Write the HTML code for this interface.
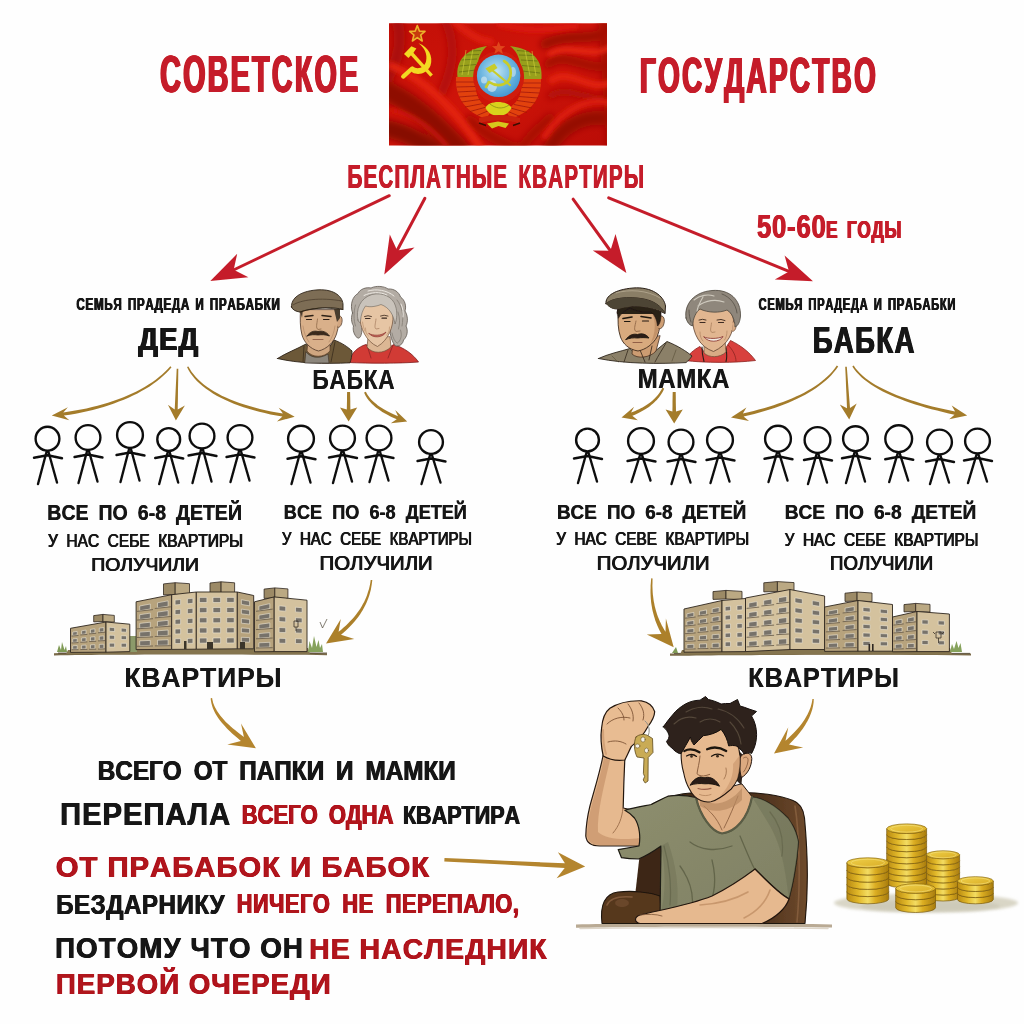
<!DOCTYPE html>
<html lang="ru"><head><meta charset="utf-8"><title>Советское государство</title>
<style>
html,body{margin:0;padding:0;background:#fefefe;}
body{width:1024px;height:1024px;overflow:hidden;font-family:"Liberation Sans",sans-serif;}
svg{display:block;font-family:"Liberation Sans",sans-serif;font-kerning:none;}
text{font-kerning:none;}
</style></head><body>
<svg width="1024" height="1024" viewBox="0 0 1024 1024">
<rect width="1024" height="1024" fill="#fefefe"/>
<defs><filter id="tsoft" x="-2%" y="-10%" width="104%" height="120%"><feGaussianBlur stdDeviation="0.3"/></filter></defs>
<g id="txt" filter="url(#tsoft)">
<text transform="translate(159.32 92.00) scale(0.5655 1)" font-size="50.87" font-weight="bold" fill="#c51f2a" style="word-spacing:0.000px;letter-spacing:3.890px" >СОВЕТСКОЕ</text>
<text transform="translate(159.72 92.00) scale(0.5655 1)" font-size="50.87" font-weight="bold" fill="#c51f2a" style="word-spacing:0.000px;letter-spacing:3.890px" >СОВЕТСКОЕ</text>
<text transform="translate(160.12 92.00) scale(0.5655 1)" font-size="50.87" font-weight="bold" fill="#c51f2a" style="word-spacing:0.000px;letter-spacing:3.890px" >СОВЕТСКОЕ</text>
<text transform="translate(160.52 92.00) scale(0.5655 1)" font-size="50.87" font-weight="bold" fill="#c51f2a" style="word-spacing:0.000px;letter-spacing:3.890px" >СОВЕТСКОЕ</text>
<text transform="translate(160.92 92.00) scale(0.5655 1)" font-size="50.87" font-weight="bold" fill="#c51f2a" style="word-spacing:0.000px;letter-spacing:3.890px" >СОВЕТСКОЕ</text>
<text transform="translate(639.12 93.00) scale(0.5517 1)" font-size="50.87" font-weight="bold" fill="#c51f2a" style="word-spacing:0.000px;letter-spacing:3.988px" >ГОСУДАРСТВО</text>
<text transform="translate(639.52 93.00) scale(0.5517 1)" font-size="50.87" font-weight="bold" fill="#c51f2a" style="word-spacing:0.000px;letter-spacing:3.988px" >ГОСУДАРСТВО</text>
<text transform="translate(639.92 93.00) scale(0.5517 1)" font-size="50.87" font-weight="bold" fill="#c51f2a" style="word-spacing:0.000px;letter-spacing:3.988px" >ГОСУДАРСТВО</text>
<text transform="translate(640.32 93.00) scale(0.5517 1)" font-size="50.87" font-weight="bold" fill="#c51f2a" style="word-spacing:0.000px;letter-spacing:3.988px" >ГОСУДАРСТВО</text>
<text transform="translate(640.72 93.00) scale(0.5517 1)" font-size="50.87" font-weight="bold" fill="#c51f2a" style="word-spacing:0.000px;letter-spacing:3.988px" >ГОСУДАРСТВО</text>
<text transform="translate(347.12 188.00) scale(0.6295 1)" font-size="32.70" font-weight="bold" fill="#c51f2a" style="word-spacing:5.081px;letter-spacing:1.906px" >БЕСПЛАТНЫЕ КВАРТИРЫ</text>
<text transform="translate(347.52 188.00) scale(0.6295 1)" font-size="32.70" font-weight="bold" fill="#c51f2a" style="word-spacing:5.081px;letter-spacing:1.906px" >БЕСПЛАТНЫЕ КВАРТИРЫ</text>
<text transform="translate(347.92 188.00) scale(0.6295 1)" font-size="32.70" font-weight="bold" fill="#c51f2a" style="word-spacing:5.081px;letter-spacing:1.906px" >БЕСПЛАТНЫЕ КВАРТИРЫ</text>
<text transform="translate(756.41 237.80) scale(0.7931 1)" font-size="32.41" font-weight="bold" fill="#c51f2a" style="word-spacing:0.000px;letter-spacing:1.009px" >50-60</text>
<text transform="translate(756.91 237.80) scale(0.7931 1)" font-size="32.41" font-weight="bold" fill="#c51f2a" style="word-spacing:0.000px;letter-spacing:1.009px" >50-60</text>
<text transform="translate(757.41 237.80) scale(0.7931 1)" font-size="32.41" font-weight="bold" fill="#c51f2a" style="word-spacing:0.000px;letter-spacing:1.009px" >50-60</text>
<text transform="translate(825.45 237.80) scale(0.7139 1)" font-size="23.98" font-weight="bold" fill="#c51f2a" style="word-spacing:4.382px;letter-spacing:1.121px" >Е ГОДЫ</text>
<text transform="translate(825.85 237.80) scale(0.7139 1)" font-size="23.98" font-weight="bold" fill="#c51f2a" style="word-spacing:4.382px;letter-spacing:1.121px" >Е ГОДЫ</text>
<text transform="translate(826.25 237.80) scale(0.7139 1)" font-size="23.98" font-weight="bold" fill="#c51f2a" style="word-spacing:4.382px;letter-spacing:1.121px" >Е ГОДЫ</text>
<text transform="translate(826.65 237.80) scale(0.7139 1)" font-size="23.98" font-weight="bold" fill="#c51f2a" style="word-spacing:4.382px;letter-spacing:1.121px" >Е ГОДЫ</text>
<text transform="translate(76.02 309.80) scale(0.6789 1)" font-size="17.15" font-weight="bold" fill="#141414" style="word-spacing:2.160px;letter-spacing:1.031px" >СЕМЬЯ ПРАДЕДА И ПРАБАБКИ</text>
<text transform="translate(76.42 309.80) scale(0.6789 1)" font-size="17.15" font-weight="bold" fill="#141414" style="word-spacing:2.160px;letter-spacing:1.031px" >СЕМЬЯ ПРАДЕДА И ПРАБАБКИ</text>
<text transform="translate(76.82 309.80) scale(0.6789 1)" font-size="17.15" font-weight="bold" fill="#141414" style="word-spacing:2.160px;letter-spacing:1.031px" >СЕМЬЯ ПРАДЕДА И ПРАБАБКИ</text>
<text transform="translate(758.14 309.80) scale(0.6692 1)" font-size="16.72" font-weight="bold" fill="#141414" style="word-spacing:2.463px;letter-spacing:1.046px" >СЕМЬЯ ПРАДЕДА И ПРАБАБКИ</text>
<text transform="translate(758.54 309.80) scale(0.6692 1)" font-size="16.72" font-weight="bold" fill="#141414" style="word-spacing:2.463px;letter-spacing:1.046px" >СЕМЬЯ ПРАДЕДА И ПРАБАБКИ</text>
<text transform="translate(758.94 309.80) scale(0.6692 1)" font-size="16.72" font-weight="bold" fill="#141414" style="word-spacing:2.463px;letter-spacing:1.046px" >СЕМЬЯ ПРАДЕДА И ПРАБАБКИ</text>
<text transform="translate(137.76 350.00) scale(0.8451 1)" font-size="31.98" font-weight="bold" fill="#141414" style="word-spacing:0.000px;letter-spacing:1.775px" >ДЕД</text>
<text transform="translate(138.16 350.00) scale(0.8451 1)" font-size="31.98" font-weight="bold" fill="#141414" style="word-spacing:0.000px;letter-spacing:1.775px" >ДЕД</text>
<text transform="translate(138.56 350.00) scale(0.8451 1)" font-size="31.98" font-weight="bold" fill="#141414" style="word-spacing:0.000px;letter-spacing:1.775px" >ДЕД</text>
<text transform="translate(138.96 350.00) scale(0.8451 1)" font-size="31.98" font-weight="bold" fill="#141414" style="word-spacing:0.000px;letter-spacing:1.775px" >ДЕД</text>
<text transform="translate(139.36 350.00) scale(0.8451 1)" font-size="31.98" font-weight="bold" fill="#141414" style="word-spacing:0.000px;letter-spacing:1.775px" >ДЕД</text>
<text transform="translate(812.17 353.30) scale(0.7440 1)" font-size="36.77" font-weight="bold" fill="#141414" style="word-spacing:0.000px;letter-spacing:2.016px" >БАБКА</text>
<text transform="translate(812.60 353.30) scale(0.7440 1)" font-size="36.77" font-weight="bold" fill="#141414" style="word-spacing:0.000px;letter-spacing:2.016px" >БАБКА</text>
<text transform="translate(813.04 353.30) scale(0.7440 1)" font-size="36.77" font-weight="bold" fill="#141414" style="word-spacing:0.000px;letter-spacing:2.016px" >БАБКА</text>
<text transform="translate(813.47 353.30) scale(0.7440 1)" font-size="36.77" font-weight="bold" fill="#141414" style="word-spacing:0.000px;letter-spacing:2.016px" >БАБКА</text>
<text transform="translate(312.18 389.40) scale(0.8333 1)" font-size="27.33" font-weight="bold" fill="#141414" style="word-spacing:0.000px;letter-spacing:0.840px" >БАБКА</text>
<text transform="translate(312.48 389.40) scale(0.8333 1)" font-size="27.33" font-weight="bold" fill="#141414" style="word-spacing:0.000px;letter-spacing:0.840px" >БАБКА</text>
<text transform="translate(637.39 388.00) scale(0.8978 1)" font-size="26.74" font-weight="bold" fill="#141414" style="word-spacing:0.000px;letter-spacing:0.668px" >МАМКА</text>
<text transform="translate(637.89 388.00) scale(0.8978 1)" font-size="26.74" font-weight="bold" fill="#141414" style="word-spacing:0.000px;letter-spacing:0.668px" >МАМКА</text>
<text transform="translate(47.09 520.20) scale(0.9201 1)" font-size="21.22" font-weight="bold" fill="#141414" style="word-spacing:5.017px;letter-spacing:0.000px" >ВСЕ ПО 6-8 ДЕТЕЙ</text>
<text transform="translate(47.59 520.20) scale(0.9201 1)" font-size="21.22" font-weight="bold" fill="#141414" style="word-spacing:5.017px;letter-spacing:0.000px" >ВСЕ ПО 6-8 ДЕТЕЙ</text>
<text transform="translate(47.58 547.10) scale(0.8828 1)" font-size="17.59" font-weight="normal" fill="#141414" style="word-spacing:4.735px;letter-spacing:0.000px" >У НАС СЕБЕ КВАРТИРЫ</text>
<text transform="translate(48.03 547.10) scale(0.8828 1)" font-size="17.59" font-weight="normal" fill="#141414" style="word-spacing:4.735px;letter-spacing:0.000px" >У НАС СЕБЕ КВАРТИРЫ</text>
<text transform="translate(48.48 547.10) scale(0.8828 1)" font-size="17.59" font-weight="normal" fill="#141414" style="word-spacing:4.735px;letter-spacing:0.000px" >У НАС СЕБЕ КВАРТИРЫ</text>
<text transform="translate(90.83 571.40) scale(1.0440 1)" font-size="18.60" font-weight="normal" fill="#141414" >ПОЛУЧИЛИ</text>
<text transform="translate(91.33 571.40) scale(1.0440 1)" font-size="18.60" font-weight="normal" fill="#141414" >ПОЛУЧИЛИ</text>
<text transform="translate(91.83 571.40) scale(1.0440 1)" font-size="18.60" font-weight="normal" fill="#141414" >ПОЛУЧИЛИ</text>
<text transform="translate(283.59 518.60) scale(0.8776 1)" font-size="20.64" font-weight="bold" fill="#141414" style="word-spacing:5.828px;letter-spacing:0.000px" >ВСЕ ПО 6-8 ДЕТЕЙ</text>
<text transform="translate(284.09 518.60) scale(0.8776 1)" font-size="20.64" font-weight="bold" fill="#141414" style="word-spacing:5.828px;letter-spacing:0.000px" >ВСЕ ПО 6-8 ДЕТЕЙ</text>
<text transform="translate(281.40 544.90) scale(0.8032 1)" font-size="18.75" font-weight="normal" fill="#141414" style="word-spacing:5.422px;letter-spacing:0.000px" >У НАС СЕБЕ КВАРТИРЫ</text>
<text transform="translate(281.85 544.90) scale(0.8032 1)" font-size="18.75" font-weight="normal" fill="#141414" style="word-spacing:5.422px;letter-spacing:0.000px" >У НАС СЕБЕ КВАРТИРЫ</text>
<text transform="translate(282.30 544.90) scale(0.8032 1)" font-size="18.75" font-weight="normal" fill="#141414" style="word-spacing:5.422px;letter-spacing:0.000px" >У НАС СЕБЕ КВАРТИРЫ</text>
<text transform="translate(319.04 570.20) scale(0.9967 1)" font-size="20.49" font-weight="normal" fill="#141414" >ПОЛУЧИЛИ</text>
<text transform="translate(319.54 570.20) scale(0.9967 1)" font-size="20.49" font-weight="normal" fill="#141414" >ПОЛУЧИЛИ</text>
<text transform="translate(320.04 570.20) scale(0.9967 1)" font-size="20.49" font-weight="normal" fill="#141414" >ПОЛУЧИЛИ</text>
<text transform="translate(556.74 518.60) scale(0.9154 1)" font-size="20.64" font-weight="bold" fill="#141414" style="word-spacing:5.286px;letter-spacing:0.000px" >ВСЕ ПО 6-8 ДЕТЕЙ</text>
<text transform="translate(557.24 518.60) scale(0.9154 1)" font-size="20.64" font-weight="bold" fill="#141414" style="word-spacing:5.286px;letter-spacing:0.000px" >ВСЕ ПО 6-8 ДЕТЕЙ</text>
<text transform="translate(555.79 544.90) scale(0.8166 1)" font-size="18.75" font-weight="normal" fill="#141414" style="word-spacing:5.218px;letter-spacing:0.000px" >У НАС СЕВЕ КВАРТИРЫ</text>
<text transform="translate(556.24 544.90) scale(0.8166 1)" font-size="18.75" font-weight="normal" fill="#141414" style="word-spacing:5.218px;letter-spacing:0.000px" >У НАС СЕВЕ КВАРТИРЫ</text>
<text transform="translate(556.69 544.90) scale(0.8166 1)" font-size="18.75" font-weight="normal" fill="#141414" style="word-spacing:5.218px;letter-spacing:0.000px" >У НАС СЕВЕ КВАРТИРЫ</text>
<text transform="translate(596.35 570.20) scale(0.9921 1)" font-size="20.49" font-weight="normal" fill="#141414" >ПОЛУЧИЛИ</text>
<text transform="translate(596.85 570.20) scale(0.9921 1)" font-size="20.49" font-weight="normal" fill="#141414" >ПОЛУЧИЛИ</text>
<text transform="translate(597.35 570.20) scale(0.9921 1)" font-size="20.49" font-weight="normal" fill="#141414" >ПОЛУЧИЛИ</text>
<text transform="translate(784.42 519.30) scale(0.9292 1)" font-size="20.64" font-weight="bold" fill="#141414" style="word-spacing:5.100px;letter-spacing:0.000px" >ВСЕ ПО 6-8 ДЕТЕЙ</text>
<text transform="translate(784.92 519.30) scale(0.9292 1)" font-size="20.64" font-weight="bold" fill="#141414" style="word-spacing:5.100px;letter-spacing:0.000px" >ВСЕ ПО 6-8 ДЕТЕЙ</text>
<text transform="translate(784.19 545.50) scale(0.8161 1)" font-size="18.90" font-weight="normal" fill="#141414" style="word-spacing:5.170px;letter-spacing:0.000px" >У НАС СЕБЕ КВАРТИРЫ</text>
<text transform="translate(784.64 545.50) scale(0.8161 1)" font-size="18.90" font-weight="normal" fill="#141414" style="word-spacing:5.170px;letter-spacing:0.000px" >У НАС СЕБЕ КВАРТИРЫ</text>
<text transform="translate(785.09 545.50) scale(0.8161 1)" font-size="18.90" font-weight="normal" fill="#141414" style="word-spacing:5.170px;letter-spacing:0.000px" >У НАС СЕБЕ КВАРТИРЫ</text>
<text transform="translate(829.59 570.20) scale(0.9543 1)" font-size="19.48" font-weight="normal" fill="#141414" >ПОЛУЧИЛИ</text>
<text transform="translate(830.09 570.20) scale(0.9543 1)" font-size="19.48" font-weight="normal" fill="#141414" >ПОЛУЧИЛИ</text>
<text transform="translate(830.59 570.20) scale(0.9543 1)" font-size="19.48" font-weight="normal" fill="#141414" >ПОЛУЧИЛИ</text>
<text transform="translate(124.23 687.00) scale(0.9594 1)" font-size="27.62" font-weight="bold" fill="#141414" style="word-spacing:0.000px;letter-spacing:0.938px" >КВАРТИРЫ</text>
<text transform="translate(124.53 687.00) scale(0.9594 1)" font-size="27.62" font-weight="bold" fill="#141414" style="word-spacing:0.000px;letter-spacing:0.938px" >КВАРТИРЫ</text>
<text transform="translate(748.00 686.50) scale(0.9337 1)" font-size="27.18" font-weight="bold" fill="#141414" style="word-spacing:0.000px;letter-spacing:0.964px" >КВАРТИРЫ</text>
<text transform="translate(748.30 686.50) scale(0.9337 1)" font-size="27.18" font-weight="bold" fill="#141414" style="word-spacing:0.000px;letter-spacing:0.964px" >КВАРТИРЫ</text>
<text transform="translate(97.27 780.00) scale(0.8993 1)" font-size="27.04" font-weight="bold" fill="#141414" style="word-spacing:5.722px;letter-spacing:0.000px" >ВСЕГО ОТ ПАПКИ И МАМКИ</text>
<text transform="translate(97.77 780.00) scale(0.8993 1)" font-size="27.04" font-weight="bold" fill="#141414" style="word-spacing:5.722px;letter-spacing:0.000px" >ВСЕГО ОТ ПАПКИ И МАМКИ</text>
<text transform="translate(98.27 780.00) scale(0.8993 1)" font-size="27.04" font-weight="bold" fill="#141414" style="word-spacing:5.722px;letter-spacing:0.000px" >ВСЕГО ОТ ПАПКИ И МАМКИ</text>
<text transform="translate(59.64 825.00) scale(0.9576 1)" font-size="30.52" font-weight="bold" fill="#141414" style="word-spacing:0.000px;letter-spacing:1.044px" >ПЕРЕПАЛА</text>
<text transform="translate(60.09 825.00) scale(0.9576 1)" font-size="30.52" font-weight="bold" fill="#141414" style="word-spacing:0.000px;letter-spacing:1.044px" >ПЕРЕПАЛА</text>
<text transform="translate(60.54 825.00) scale(0.9576 1)" font-size="30.52" font-weight="bold" fill="#141414" style="word-spacing:0.000px;letter-spacing:1.044px" >ПЕРЕПАЛА</text>
<text transform="translate(241.13 823.60) scale(0.7965 1)" font-size="27.62" font-weight="bold" fill="#b0121b" style="word-spacing:6.356px;letter-spacing:0.000px" >ВСЕГО ОДНА</text>
<text transform="translate(241.53 823.60) scale(0.7965 1)" font-size="27.62" font-weight="bold" fill="#b0121b" style="word-spacing:6.356px;letter-spacing:0.000px" >ВСЕГО ОДНА</text>
<text transform="translate(241.93 823.60) scale(0.7965 1)" font-size="27.62" font-weight="bold" fill="#b0121b" style="word-spacing:6.356px;letter-spacing:0.000px" >ВСЕГО ОДНА</text>
<text transform="translate(242.33 823.60) scale(0.7965 1)" font-size="27.62" font-weight="bold" fill="#b0121b" style="word-spacing:6.356px;letter-spacing:0.000px" >ВСЕГО ОДНА</text>
<text transform="translate(402.46 823.60) scale(0.8137 1)" font-size="26.45" font-weight="bold" fill="#141414" >КВАРТИРА</text>
<text transform="translate(402.96 823.60) scale(0.8137 1)" font-size="26.45" font-weight="bold" fill="#141414" >КВАРТИРА</text>
<text transform="translate(403.46 823.60) scale(0.8137 1)" font-size="26.45" font-weight="bold" fill="#141414" >КВАРТИРА</text>
<text transform="translate(55.30 876.80) scale(0.9925 1)" font-size="29.51" font-weight="bold" fill="#b0121b" style="word-spacing:0.000px;letter-spacing:1.008px" >ОТ ПРАБАБОК И БАБОК</text>
<text transform="translate(55.75 876.80) scale(0.9925 1)" font-size="29.51" font-weight="bold" fill="#b0121b" style="word-spacing:0.000px;letter-spacing:1.008px" >ОТ ПРАБАБОК И БАБОК</text>
<text transform="translate(56.20 876.80) scale(0.9925 1)" font-size="29.51" font-weight="bold" fill="#b0121b" style="word-spacing:0.000px;letter-spacing:1.008px" >ОТ ПРАБАБОК И БАБОК</text>
<text transform="translate(55.68 913.60) scale(0.8755 1)" font-size="27.62" font-weight="bold" fill="#141414" style="word-spacing:0.000px;letter-spacing:0.571px" >БЕЗДАРНИКУ</text>
<text transform="translate(56.13 913.60) scale(0.8755 1)" font-size="27.62" font-weight="bold" fill="#141414" style="word-spacing:0.000px;letter-spacing:0.571px" >БЕЗДАРНИКУ</text>
<text transform="translate(56.58 913.60) scale(0.8755 1)" font-size="27.62" font-weight="bold" fill="#141414" style="word-spacing:0.000px;letter-spacing:0.571px" >БЕЗДАРНИКУ</text>
<text transform="translate(236.15 912.70) scale(0.7811 1)" font-size="27.76" font-weight="bold" fill="#b0121b" style="word-spacing:6.972px;letter-spacing:0.768px" >НИЧЕГО НЕ ПЕРЕПАЛО,</text>
<text transform="translate(236.55 912.70) scale(0.7811 1)" font-size="27.76" font-weight="bold" fill="#b0121b" style="word-spacing:6.972px;letter-spacing:0.768px" >НИЧЕГО НЕ ПЕРЕПАЛО,</text>
<text transform="translate(236.95 912.70) scale(0.7811 1)" font-size="27.76" font-weight="bold" fill="#b0121b" style="word-spacing:6.972px;letter-spacing:0.768px" >НИЧЕГО НЕ ПЕРЕПАЛО,</text>
<text transform="translate(237.35 912.70) scale(0.7811 1)" font-size="27.76" font-weight="bold" fill="#b0121b" style="word-spacing:6.972px;letter-spacing:0.768px" >НИЧЕГО НЕ ПЕРЕПАЛО,</text>
<text transform="translate(54.64 958.10) scale(0.9417 1)" font-size="29.51" font-weight="bold" fill="#141414" style="word-spacing:0.000px;letter-spacing:1.062px" >ПОТОМУ ЧТО ОН</text>
<text transform="translate(55.09 958.10) scale(0.9417 1)" font-size="29.51" font-weight="bold" fill="#141414" style="word-spacing:0.000px;letter-spacing:1.062px" >ПОТОМУ ЧТО ОН</text>
<text transform="translate(55.54 958.10) scale(0.9417 1)" font-size="29.51" font-weight="bold" fill="#141414" style="word-spacing:0.000px;letter-spacing:1.062px" >ПОТОМУ ЧТО ОН</text>
<text transform="translate(308.70 958.70) scale(0.9643 1)" font-size="29.51" font-weight="bold" fill="#b0121b" style="word-spacing:0.000px;letter-spacing:1.037px" >НЕ НАСЛЕДНИК</text>
<text transform="translate(309.15 958.70) scale(0.9643 1)" font-size="29.51" font-weight="bold" fill="#b0121b" style="word-spacing:0.000px;letter-spacing:1.037px" >НЕ НАСЛЕДНИК</text>
<text transform="translate(309.60 958.70) scale(0.9643 1)" font-size="29.51" font-weight="bold" fill="#b0121b" style="word-spacing:0.000px;letter-spacing:1.037px" >НЕ НАСЛЕДНИК</text>
<text transform="translate(55.45 994.40) scale(0.9618 1)" font-size="28.78" font-weight="bold" fill="#b0121b" style="word-spacing:0.000px;letter-spacing:1.040px" >ПЕРВОЙ ОЧЕРЕДИ</text>
<text transform="translate(55.90 994.40) scale(0.9618 1)" font-size="28.78" font-weight="bold" fill="#b0121b" style="word-spacing:0.000px;letter-spacing:1.040px" >ПЕРВОЙ ОЧЕРЕДИ</text>
<text transform="translate(56.35 994.40) scale(0.9618 1)" font-size="28.78" font-weight="bold" fill="#b0121b" style="word-spacing:0.000px;letter-spacing:1.040px" >ПЕРВОЙ ОЧЕРЕДИ</text>
</g>
<g id="redarrows" filter="url(#tsoft)">
<path d="M389.3 195.7 L231.4 271.0" stroke="#c51f2a" stroke-width="3.00" stroke-linecap="round" fill="none"/><path d="M210.3 281.0 L237.2 253.8 L233.7 269.8 L248.4 277.2Z" fill="#c51f2a"/>
<path d="M424.9 198.3 L395.9 252.8" stroke="#c51f2a" stroke-width="3.00" stroke-linecap="round" fill="none"/><path d="M384.3 274.5 L389.8 234.4 L397.2 250.4 L414.5 247.5Z" fill="#c51f2a"/>
<path d="M573.1 199.1 L612.0 253.0" stroke="#c51f2a" stroke-width="3.00" stroke-linecap="round" fill="none"/><path d="M626.4 273.0 L592.8 250.4 L610.4 250.8 L615.5 234.0Z" fill="#c51f2a"/>
<path d="M608.7 197.8 L791.4 272.4" stroke="#c51f2a" stroke-width="3.00" stroke-linecap="round" fill="none"/><path d="M813.0 281.2 L774.8 279.6 L789.0 271.4 L784.6 255.6Z" fill="#c51f2a"/>
</g>
<g id="goldarrows" filter="url(#tsoft)">
<path d="M170.3 366.2 L167.8 369.0 L165.0 371.8 L162.1 374.5 L159.0 377.1 L155.7 379.7 L152.2 382.2 L148.5 384.6 L144.6 387.0 L140.6 389.2 L136.4 391.4 L132.0 393.5 L127.5 395.5 L122.9 397.4 L118.1 399.3 L113.1 401.0 L108.0 402.7 L102.8 404.3 L97.5 405.7 L92.1 407.1 L86.5 408.4 L80.9 409.6 L75.1 410.6 L69.3 411.6 L63.3 412.5 L67.9 407.3 L51.7 415.5 L69.3 420.2 L63.8 415.6 L69.8 414.7 L75.7 413.7 L81.5 412.5 L87.2 411.2 L92.8 409.9 L98.2 408.4 L103.6 406.9 L108.9 405.2 L114.0 403.5 L118.9 401.6 L123.8 399.7 L128.5 397.7 L133.0 395.6 L137.4 393.4 L141.6 391.1 L145.7 388.8 L149.6 386.4 L153.3 383.8 L156.8 381.2 L160.2 378.6 L163.3 375.8 L166.3 373.0 L169.0 370.2 L171.5 367.2Z" fill="#a47c2c"/>
<path d="M176.7 368.7 L176.2 378.9 L175.7 389.0 L175.2 399.2 L174.7 409.4 L167.9 404.8 L175.9 420.6 L184.9 405.4 L177.7 409.5 L177.9 399.3 L178.0 389.1 L178.2 378.9 L178.3 368.7Z" fill="#a47c2c"/>
<path d="M187.0 367.0 L188.5 370.0 L190.3 372.9 L192.4 375.7 L194.6 378.5 L197.1 381.2 L199.9 383.8 L202.8 386.3 L206.0 388.8 L209.4 391.1 L212.9 393.4 L216.7 395.7 L220.7 397.8 L224.9 399.8 L229.3 401.8 L233.8 403.7 L238.6 405.5 L243.5 407.2 L248.6 408.8 L253.8 410.3 L259.2 411.8 L264.8 413.1 L270.5 414.4 L276.4 415.5 L282.4 416.6 L277.0 421.6 L294.7 416.7 L278.7 407.7 L282.9 413.4 L276.9 412.4 L271.1 411.4 L265.4 410.2 L259.9 408.9 L254.6 407.6 L249.4 406.1 L244.3 404.6 L239.5 403.0 L234.8 401.3 L230.3 399.5 L225.9 397.6 L221.8 395.7 L217.9 393.6 L214.1 391.5 L210.6 389.3 L207.2 387.0 L204.1 384.7 L201.2 382.3 L198.5 379.8 L196.0 377.2 L193.8 374.6 L191.7 371.9 L190.0 369.2 L188.4 366.4Z" fill="#a47c2c"/>
<path d="M347.1 392.1 L347.0 396.4 L347.0 400.7 L346.9 405.1 L346.8 409.4 L340.0 407.4 L348.6 421.4 L357.2 407.4 L350.4 409.4 L350.3 405.1 L350.3 400.7 L350.2 396.4 L350.1 392.1Z" fill="#a47c2c"/>
<path d="M364.1 392.5 L364.5 393.6 L365.1 394.7 L365.7 395.9 L366.4 397.0 L367.1 398.2 L367.9 399.3 L368.8 400.5 L369.8 401.6 L370.9 402.8 L372.0 403.9 L373.2 405.1 L374.5 406.2 L375.9 407.4 L377.4 408.5 L378.9 409.6 L380.6 410.7 L382.3 411.9 L384.1 413.0 L386.0 414.0 L387.9 415.1 L390.0 416.2 L392.1 417.2 L394.4 418.3 L396.7 419.3 L390.8 423.3 L407.2 421.4 L395.2 410.0 L398.0 416.2 L395.7 415.2 L393.5 414.3 L391.4 413.3 L389.4 412.3 L387.4 411.3 L385.6 410.3 L383.8 409.3 L382.2 408.3 L380.6 407.3 L379.0 406.2 L377.6 405.2 L376.3 404.1 L375.0 403.1 L373.8 402.1 L372.7 401.0 L371.6 400.0 L370.7 398.9 L369.8 397.9 L369.0 396.8 L368.2 395.8 L367.5 394.8 L366.9 393.7 L366.4 392.7 L365.9 391.7Z" fill="#a47c2c"/>
<path d="M662.4 387.8 L661.8 389.0 L661.1 390.2 L660.4 391.3 L659.7 392.5 L658.8 393.7 L658.0 394.8 L657.0 396.0 L656.0 397.1 L654.9 398.2 L653.8 399.3 L652.6 400.4 L651.4 401.4 L650.1 402.5 L648.7 403.5 L647.2 404.5 L645.7 405.5 L644.1 406.5 L642.5 407.4 L640.8 408.3 L639.0 409.2 L637.1 410.1 L635.2 411.0 L633.2 411.8 L631.1 412.6 L634.1 406.8 L621.5 417.5 L637.8 420.2 L632.3 415.8 L634.4 414.9 L636.5 414.0 L638.5 413.0 L640.4 412.1 L642.2 411.1 L644.0 410.1 L645.7 409.0 L647.3 407.9 L648.9 406.9 L650.4 405.8 L651.8 404.6 L653.1 403.5 L654.4 402.3 L655.6 401.1 L656.8 399.9 L657.8 398.7 L658.9 397.5 L659.8 396.3 L660.7 395.0 L661.5 393.7 L662.3 392.5 L663.0 391.2 L663.6 389.9 L664.2 388.6Z" fill="#a47c2c"/>
<path d="M672.7 392.0 L672.6 396.9 L672.5 401.7 L672.5 406.6 L672.4 411.5 L665.6 409.4 L674.2 423.4 L682.8 409.4 L676.0 411.5 L675.9 406.6 L675.8 401.7 L675.8 396.9 L675.7 392.0Z" fill="#a47c2c"/>
<path d="M836.8 365.6 L834.7 368.4 L832.5 371.2 L830.0 373.9 L827.3 376.5 L824.5 379.1 L821.5 381.5 L818.3 383.9 L815.0 386.2 L811.5 388.4 L807.9 390.6 L804.1 392.7 L800.1 394.7 L796.0 396.6 L791.8 398.5 L787.4 400.2 L783.0 402.0 L778.3 403.6 L773.6 405.2 L768.8 406.7 L763.8 408.2 L758.7 409.6 L753.6 410.9 L748.3 412.2 L742.9 413.4 L746.4 407.4 L731.0 417.5 L749.0 421.1 L743.6 416.5 L749.0 415.2 L754.3 413.9 L759.5 412.5 L764.6 411.0 L769.6 409.5 L774.5 407.9 L779.3 406.2 L783.9 404.5 L788.4 402.7 L792.8 400.8 L797.1 398.8 L801.2 396.8 L805.2 394.7 L809.0 392.6 L812.7 390.3 L816.2 388.0 L819.5 385.6 L822.7 383.1 L825.8 380.5 L828.6 377.9 L831.3 375.2 L833.8 372.3 L836.1 369.4 L838.2 366.4Z" fill="#a47c2c"/>
<path d="M845.2 366.7 L845.7 377.1 L846.1 387.5 L846.6 397.9 L847.0 408.2 L839.8 404.5 L849.2 419.5 L856.7 403.5 L850.0 408.1 L849.2 397.7 L848.4 387.4 L847.6 377.0 L846.8 366.7Z" fill="#a47c2c"/>
<path d="M852.3 366.4 L854.2 369.2 L856.3 371.9 L858.8 374.6 L861.4 377.2 L864.4 379.7 L867.5 382.1 L870.9 384.5 L874.5 386.8 L878.3 389.0 L882.3 391.2 L886.5 393.3 L890.9 395.3 L895.5 397.2 L900.2 399.1 L905.1 401.0 L910.1 402.7 L915.3 404.4 L920.6 406.1 L926.0 407.7 L931.5 409.2 L937.1 410.6 L942.8 412.0 L948.6 413.4 L954.5 414.7 L949.2 419.3 L967.2 415.5 L951.7 405.6 L955.1 411.5 L949.3 410.3 L943.5 409.1 L937.8 407.7 L932.2 406.4 L926.7 404.9 L921.3 403.4 L916.1 401.8 L911.0 400.2 L906.0 398.5 L901.1 396.8 L896.4 395.0 L891.9 393.1 L887.5 391.1 L883.4 389.1 L879.4 387.1 L875.6 385.0 L872.0 382.8 L868.7 380.5 L865.6 378.2 L862.7 375.8 L860.0 373.3 L857.7 370.8 L855.5 368.2 L853.7 365.6Z" fill="#a47c2c"/>
<path d="M370.7 579.9 L370.4 582.2 L370.0 584.4 L369.5 586.7 L369.0 588.9 L368.3 591.1 L367.6 593.3 L366.9 595.5 L366.0 597.7 L365.1 599.8 L364.1 602.0 L362.9 604.1 L361.7 606.3 L360.4 608.4 L359.0 610.5 L357.5 612.6 L355.9 614.8 L354.1 616.9 L352.3 619.0 L350.3 621.1 L348.2 623.3 L346.0 625.4 L343.6 627.5 L341.2 629.7 L338.6 631.8 L340.8 619.1 L326.0 643.6 L354.3 639.0 L341.0 634.8 L343.7 632.6 L346.2 630.3 L348.5 628.0 L350.7 625.7 L352.8 623.5 L354.8 621.2 L356.6 618.9 L358.4 616.7 L360.0 614.4 L361.5 612.1 L362.8 609.9 L364.1 607.6 L365.3 605.3 L366.4 603.1 L367.3 600.8 L368.2 598.5 L369.0 596.2 L369.7 594.0 L370.3 591.7 L370.9 589.4 L371.3 587.1 L371.7 584.7 L372.0 582.4 L372.3 580.1Z" fill="#ac802c"/>
<path d="M651.2 578.3 L651.0 580.8 L650.8 583.2 L650.6 585.6 L650.6 587.9 L650.5 590.3 L650.5 592.7 L650.6 595.0 L650.7 597.3 L650.9 599.7 L651.1 602.0 L651.4 604.3 L651.8 606.6 L652.2 608.9 L652.7 611.2 L653.3 613.5 L653.9 615.8 L654.6 618.1 L655.3 620.4 L656.2 622.7 L657.1 625.0 L658.1 627.3 L659.1 629.5 L660.3 631.8 L661.5 634.1 L646.8 634.6 L673.7 647.3 L665.9 618.6 L665.5 631.8 L664.2 629.7 L663.0 627.6 L661.8 625.4 L660.8 623.3 L659.8 621.2 L658.9 619.1 L658.0 616.9 L657.2 614.8 L656.5 612.6 L655.9 610.4 L655.3 608.2 L654.7 606.0 L654.3 603.8 L653.8 601.6 L653.5 599.4 L653.2 597.1 L652.9 594.8 L652.7 592.6 L652.6 590.3 L652.5 587.9 L652.4 585.6 L652.5 583.2 L652.5 580.9 L652.6 578.5Z" fill="#ac802c"/>
<path d="M210.7 698.3 L210.8 700.0 L211.1 701.6 L211.4 703.3 L211.9 705.0 L212.4 706.8 L213.0 708.5 L213.8 710.2 L214.6 712.0 L215.5 713.7 L216.6 715.5 L217.7 717.2 L218.9 719.0 L220.2 720.8 L221.6 722.5 L223.2 724.3 L224.8 726.1 L226.5 727.9 L228.2 729.8 L230.1 731.6 L232.1 733.4 L234.2 735.3 L236.3 737.1 L238.6 739.0 L240.9 740.9 L227.3 744.5 L255.9 748.3 L241.0 723.6 L243.9 736.9 L241.6 735.2 L239.3 733.5 L237.1 731.8 L235.0 730.1 L233.0 728.4 L231.0 726.8 L229.2 725.1 L227.5 723.5 L225.8 721.9 L224.3 720.2 L222.8 718.6 L221.5 717.0 L220.2 715.4 L219.0 713.8 L217.9 712.3 L216.9 710.7 L216.0 709.1 L215.1 707.6 L214.4 706.0 L213.8 704.4 L213.2 702.9 L212.8 701.3 L212.4 699.7 L212.1 698.1Z" fill="#b4852e"/>
<path d="M812.4 699.0 L812.2 700.6 L811.9 702.3 L811.5 704.0 L811.0 705.7 L810.5 707.4 L809.9 709.1 L809.2 710.8 L808.4 712.6 L807.6 714.3 L806.6 716.0 L805.6 717.8 L804.6 719.5 L803.4 721.2 L802.2 723.0 L800.9 724.8 L799.5 726.5 L798.0 728.3 L796.4 730.0 L794.8 731.8 L793.1 733.6 L791.3 735.3 L789.5 737.1 L787.5 738.9 L785.5 740.7 L788.3 727.3 L774.0 753.4 L803.2 747.5 L789.0 744.5 L791.0 742.5 L792.9 740.6 L794.7 738.6 L796.5 736.7 L798.1 734.7 L799.7 732.8 L801.2 730.8 L802.6 728.9 L803.9 726.9 L805.2 725.0 L806.3 723.1 L807.4 721.2 L808.4 719.3 L809.3 717.4 L810.1 715.5 L810.9 713.6 L811.5 711.7 L812.1 709.9 L812.6 708.0 L813.0 706.2 L813.3 704.4 L813.6 702.6 L813.7 700.8 L813.8 699.0Z" fill="#b4852e"/>
<path d="M444.3 861.4 L474.4 863.0 L504.5 864.6 L534.6 866.3 L564.7 867.9 L556.6 878.2 L585.2 866.6 L557.9 852.2 L564.9 863.3 L534.8 862.0 L504.7 860.7 L474.6 859.3 L444.5 858.0Z" fill="#b4852e"/>
</g>
<g id="sticks" filter="url(#tsoft)" fill="none" stroke="#111" stroke-width="2.4" stroke-linecap="round" stroke-linejoin="round">
<circle cx="47.5" cy="438.7" r="11.9"/><path d="M46.7 451.2 L38.0 484.0 M48.3 451.2 L57.0 482.5"/><path d="M34.0 457.7 L47.5 455.2 L62.0 458.2"/>
<circle cx="88.0" cy="437.5" r="12.4"/><path d="M87.2 450.5 L78.5 483.0 M88.8 450.5 L97.5 481.5"/><path d="M74.5 457.0 L88.0 454.5 L102.5 457.5"/>
<circle cx="130.0" cy="435.0" r="12.9"/><path d="M129.2 448.5 L120.5 482.0 M130.8 448.5 L139.5 480.5"/><path d="M116.5 455.0 L130.0 452.5 L144.5 455.5"/>
<circle cx="168.7" cy="439.5" r="11.4"/><path d="M167.9 451.5 L159.2 484.0 M169.5 451.5 L178.2 482.5"/><path d="M155.2 458.0 L168.7 455.5 L183.2 458.5"/>
<circle cx="202.0" cy="436.0" r="12.4"/><path d="M201.2 449.0 L192.5 483.0 M202.8 449.0 L211.5 481.5"/><path d="M188.5 455.5 L202.0 453.0 L216.5 456.0"/>
<circle cx="240.0" cy="437.5" r="12.4"/><path d="M239.2 450.5 L230.5 482.0 M240.8 450.5 L249.5 480.5"/><path d="M226.5 457.0 L240.0 454.5 L254.5 457.5"/>
<circle cx="301.0" cy="438.7" r="12.9"/><path d="M300.2 452.2 L291.5 484.0 M301.8 452.2 L310.5 482.5"/><path d="M287.5 458.7 L301.0 456.2 L315.5 459.2"/>
<circle cx="342.5" cy="438.0" r="12.4"/><path d="M341.7 451.0 L333.0 483.0 M343.3 451.0 L352.0 481.5"/><path d="M329.0 457.5 L342.5 455.0 L357.0 458.0"/>
<circle cx="379.0" cy="438.0" r="12.4"/><path d="M378.2 451.0 L369.5 482.0 M379.8 451.0 L388.5 480.5"/><path d="M365.5 457.5 L379.0 455.0 L393.5 458.0"/>
<circle cx="431.0" cy="442.0" r="11.9"/><path d="M430.2 454.5 L421.5 484.0 M431.8 454.5 L440.5 482.5"/><path d="M417.5 461.0 L431.0 458.5 L445.5 461.5"/>
<circle cx="587.5" cy="440.0" r="11.4"/><path d="M586.7 452.0 L578.0 483.0 M588.3 452.0 L597.0 481.5"/><path d="M574.0 458.5 L587.5 456.0 L602.0 459.0"/>
<circle cx="641.0" cy="441.0" r="12.9"/><path d="M640.2 454.5 L631.5 482.0 M641.8 454.5 L650.5 480.5"/><path d="M627.5 461.0 L641.0 458.5 L655.5 461.5"/>
<circle cx="681.0" cy="442.0" r="12.4"/><path d="M680.2 455.0 L671.5 484.0 M681.8 455.0 L690.5 482.5"/><path d="M667.5 461.5 L681.0 459.0 L695.5 462.0"/>
<circle cx="720.0" cy="440.0" r="12.9"/><path d="M719.2 453.5 L710.5 483.0 M720.8 453.5 L729.5 481.5"/><path d="M706.5 460.0 L720.0 457.5 L734.5 460.5"/>
<circle cx="778.0" cy="438.7" r="12.9"/><path d="M777.2 452.2 L768.5 482.0 M778.8 452.2 L787.5 480.5"/><path d="M764.5 458.7 L778.0 456.2 L792.5 459.2"/>
<circle cx="817.5" cy="440.0" r="12.9"/><path d="M816.7 453.5 L808.0 484.0 M818.3 453.5 L827.0 482.5"/><path d="M804.0 460.0 L817.5 457.5 L832.0 460.5"/>
<circle cx="855.5" cy="438.7" r="12.4"/><path d="M854.7 451.7 L846.0 483.0 M856.3 451.7 L865.0 481.5"/><path d="M842.0 458.2 L855.5 455.7 L870.0 458.7"/>
<circle cx="898.7" cy="438.7" r="13.4"/><path d="M897.9 452.7 L889.2 482.0 M899.5 452.7 L908.2 480.5"/><path d="M885.2 459.2 L898.7 456.7 L913.2 459.7"/>
<circle cx="939.5" cy="442.0" r="12.4"/><path d="M938.7 455.0 L930.0 484.0 M940.3 455.0 L949.0 482.5"/><path d="M926.0 461.5 L939.5 459.0 L954.0 462.0"/>
<circle cx="977.5" cy="441.0" r="12.4"/><path d="M976.7 454.0 L968.0 483.0 M978.3 454.0 L987.0 481.5"/><path d="M964.0 460.5 L977.5 458.0 L992.0 461.0"/>
</g>
<g id="flag">
<defs>
  <clipPath id="flagclip"><rect x="389" y="23.3" width="218" height="122.2"/></clipPath>
  <filter id="fblur" x="-20%" y="-20%" width="140%" height="140%"><feGaussianBlur stdDeviation="3.5"/></filter>
  <filter id="fblur2" x="-20%" y="-20%" width="140%" height="140%"><feGaussianBlur stdDeviation="2.2"/></filter>
  <filter id="eblur" x="-10%" y="-10%" width="120%" height="120%"><feGaussianBlur stdDeviation="0.45"/></filter>
  <radialGradient id="globe" cx="0.45" cy="0.4" r="0.65">
    <stop offset="0" stop-color="#bfe3f2"/><stop offset="0.55" stop-color="#6db6e0"/><stop offset="1" stop-color="#3f93cf"/>
  </radialGradient>
  <linearGradient id="flagbase" x1="0" y1="0" x2="1" y2="1">
    <stop offset="0" stop-color="#c20f07"/><stop offset="0.5" stop-color="#cf1409"/><stop offset="1" stop-color="#ba0c06"/>
  </linearGradient>
</defs>
<rect x="389" y="23.3" width="218" height="122.2" fill="url(#flagbase)"/>
<g clip-path="url(#flagclip)">
  <!-- folds: dark -->
  <g filter="url(#fblur)" fill="none" stroke-linecap="round">
    <path d="M380 88 C410 100 435 122 462 152" stroke="#8e0805" stroke-width="20"/>
    <path d="M380 128 C400 130 420 140 435 152" stroke="#860704" stroke-width="18"/>
    <path d="M396 18 C404 40 398 60 388 78" stroke="#a80c07" stroke-width="11"/>
    <path d="M444 18 C458 45 452 70 442 92" stroke="#b00d08" stroke-width="9"/>
    <path d="M470 120 C485 135 500 142 520 150" stroke="#a50b06" stroke-width="10"/>
    <path d="M545 44 C570 32 592 44 612 28" stroke="#990906" stroke-width="10"/>
    <path d="M548 64 C566 50 590 74 612 64" stroke="#a00a06" stroke-width="9"/>
    <path d="M550 96 C570 84 592 104 612 98" stroke="#ac0c07" stroke-width="7"/>
    <path d="M548 152 C562 122 590 114 612 120" stroke="#940906" stroke-width="14"/>
    <path d="M520 152 C528 136 540 128 550 118" stroke="#a50b06" stroke-width="9"/>
    <path d="M603 18 L612 152" stroke="#a50b06" stroke-width="10"/>
  </g>
  <!-- folds: light -->
  <g filter="url(#fblur2)" fill="none" stroke-linecap="round">
    <path d="M392 66 C425 80 455 108 482 150" stroke="#e4220f" stroke-width="8" opacity="0.9"/>
    <path d="M455 22 C470 35 478 40 490 42" stroke="#e11f0e" stroke-width="8" opacity="0.8"/>
    <path d="M500 24 C530 32 545 30 575 26" stroke="#df1d0d" stroke-width="7" opacity="0.8"/>
    <path d="M550 54 C570 42 592 60 610 47" stroke="#e92a16" stroke-width="5" opacity="0.9"/>
    <path d="M552 80 C570 68 590 92 610 83" stroke="#e42310" stroke-width="7" opacity="0.9"/>
    <path d="M545 136 C565 106 590 98 610 103" stroke="#e11f0e" stroke-width="7" opacity="0.85"/>
    <path d="M392 110 C410 114 430 126 447 146" stroke="#d81a0c" stroke-width="4" opacity="0.8"/>
  </g>
</g>
<!-- hammer & sickle (flag) -->
<g filter="url(#eblur)">
  <!-- sickle blade -->
  <path d="M418.5 43.3 C428.5 46.5 433.5 57 430.5 65.5 C427.5 73 418.5 76 412.5 72.5 C411 71.5 410.3 70 410.5 68.3 L412.6 66.3 C417.5 70.2 424.2 67.6 426 61.5 C427.8 54.5 424.5 47.5 418.5 43.3Z" fill="#f2da22"/>
  <path d="M411.8 68.8 L403.2 76.6" stroke="#f2da22" stroke-width="4.2" stroke-linecap="round" fill="none"/>
  <!-- hammer -->
  <path d="M411.6 53.5 L431.6 75.6" stroke="#f4d824" stroke-width="3.4" stroke-linecap="butt" fill="none"/>
  <path d="M404 54 L411.4 46.2 L416.4 48.6 L413.4 52.8 L408.4 57.9Z" fill="#f2da22"/>
  <!-- star -->
  <path d="M417.3 25.6 L419.5 31.2 L425 31.4 L420.7 35 L422.2 41 L417.3 37.6 L412.4 41 L413.9 35 L409.6 31.4 L415.1 31.2Z" fill="#c83a10" stroke="#ecb42c" stroke-width="1.6" stroke-linejoin="round"/>
</g>
<!-- emblem -->
<g filter="url(#eblur)">
  <!-- lower ribbons -->
  <path d="M456 77 C455 98 466 112 486 119 L492 110 C478 104 474 92 476 77Z" fill="#e2420f"/>
  <path d="M541 78 C542 98 531 112 511 119 L505 110 C519 104 523 92 521 78Z" fill="#e2420f"/>
  <g stroke="#a81c06" stroke-width="0.9" fill="none">
    <path d="M456 82 L476 82 M456.5 87 L476 86.5 M457.5 92 L476.5 91 M459 97 L478 95.5 M461.5 102 L480 99.5 M465 107 L483 103.5 M470 111.5 L486.5 107 M477 115.5 L490 110"/>
    <path d="M541 83 L521 83 M540.5 88 L521 87.5 M539.5 93 L520.5 92 M538 98 L519 96.5 M535.5 103 L517 100.5 M532 108 L514 104.5 M527 112.5 L510.5 108 M520 116.5 L507 111"/>
  </g>
  <!-- upper wheat -->
  <path d="M457.5 77 C456 60 466 49 487 46 C480 52 476 62 477 77Z" fill="#98a01c"/>
  <path d="M541.5 79 C543 60 533 49 510 46 C518 52 522 62 521 79Z" fill="#98a01c"/>
  <g stroke="#5f6a10" stroke-width="0.8" fill="none" opacity="0.85">
    <path d="M459 72 L476 70 M459.5 66 L476 64.5 M461.5 60 L477 59 M465 55 L479 54.5 M470 51 L481 50.5"/>
    <path d="M540 73 L522 71 M539.5 67 L522 65.5 M537.5 61 L521 60 M534 55.5 L519 55 M529 51.5 L517 50.5"/>
  </g>
  <g stroke="#d8d640" stroke-width="0.7" fill="none" opacity="0.8">
    <path d="M462 75 L466 50 M468 75 L473 49 M536 76 L532 51 M530 76 L525 50"/>
  </g>
  <!-- red ring + globe -->
  <ellipse cx="498.6" cy="77" rx="25.5" ry="26" fill="#cf1c0c"/>
  <ellipse cx="498.6" cy="75.8" rx="21.7" ry="21.2" fill="url(#globe)"/>
  <ellipse cx="492" cy="86" rx="5" ry="6" fill="#f4f8f4" opacity="0.55"/>
  <ellipse cx="513" cy="72" rx="3" ry="5" fill="#f4f8f4" opacity="0.45"/>
  <ellipse cx="484" cy="80" rx="3" ry="3.5" fill="#f4f8f4" opacity="0.5"/>
  <!-- hammer & sickle on globe -->
  <g fill="none" stroke="#c8cc2c" stroke-linecap="round">
    <path d="M504 61 C513 66 513 80 504 84 C498 86.5 492 84 489 82" stroke-width="2.6"/>
    <path d="M489 82 L486 87" stroke-width="2.6"/>
    <path d="M492 70 L510 85" stroke-width="2.2"/>
  </g>
  <path d="M485.5 68.5 L494.5 63.5 L497.5 68 L489.5 73Z" fill="#c8cc2c"/>
  <!-- sun -->
  <path d="M485.5 108 C488 100 508 100 511.5 108 C509 113 504 116 498.6 116 C493 116 488 113 485.5 108Z" fill="#d9d31e"/>
  <path d="M490 104 C495 108 502 110 509 105" stroke="#7f8610" stroke-width="0.7" fill="none"/>
  <!-- bottom ribbon -->
  <path d="M479 118 C490 114 508 114 520 118 L520 123.5 C508 119.5 490 119.5 479 123.5Z" fill="#c9200c"/>
  <path d="M479 123 L486 125.5 M520 123 L513 125.5" stroke="#3a0c06" stroke-width="1.6"/>
  <path d="M487 123.5 L498 121.5 L509 123.5 L505.5 128 L498.5 126 L492 128.5Z" fill="#d6c81e"/>
  <!-- star top -->
  <path d="M498.6 41.5 L500.5 46 L505.3 46.2 L501.5 49.2 L502.9 54 L498.6 51.2 L494.3 54 L495.7 49.2 L491.9 46.2 L496.7 46Z" fill="#e0461c"/>
</g>
</g>

<g id="faces" stroke-linejoin="round" stroke-linecap="round">
<defs>
  <filter id="soft" x="-5%" y="-5%" width="110%" height="110%"><feGaussianBlur stdDeviation="0.35"/></filter>
</defs>
<g filter="url(#soft)">
<!-- ============ LEFT COUPLE ============ -->
<!-- woman (behind) red shirt -->
<path d="M348 362.5 C352 352 358 347 366 344.5 L372 349 L386 349 L394 344.5 C404 348 413 354 418.5 362 C400 363.5 370 363.5 348 362.5Z" fill="#d13a36" stroke="#7e1d1c" stroke-width="0.8"/>
<path d="M367 345 L371 358 M393 345 L388 358" stroke="#8e2422" stroke-width="0.8" fill="none"/>
<!-- woman neck -->
<path d="M368 338 L367 347 C372 354 384 354 391 347 L390 337Z" fill="#dcb794" stroke="#6e4d36" stroke-width="0.7"/>
<!-- woman hair back -->
<path d="M352.5 313 C349.5 304 353 296 358 293.5 C360 289 366 287 371 288 C376 285.5 384 286 388 289 C394 288.5 399 292 400.5 297 C405 300 406.5 306 405 311 C408 316 408 322 406 326 C408.5 331 407 337 403.5 340 C403 344 399.5 346.5 395.5 346 C392 342 390 336 390 328 L362 328 C362 334 360.5 339 357.5 338 C354 335 352.5 330 353.5 326 C351 322 351 317 352.5 313Z" fill="#b3aca4" stroke="#5e574f" stroke-width="0.8"/>
<!-- woman face -->
<path d="M359.5 314 C359.5 305 366 300.5 376.5 300.5 C387 300.5 393 305.5 393 315 C393.5 327 388.5 340 377.5 346.5 C367 342 359.5 329 359.5 314Z" fill="#e6c5a4" stroke="#6e4d36" stroke-width="0.7"/>
<!-- hair front waves -->
<path d="M358 320 C355.5 310 360 298 372 294.5 C383 292 393 297 395.5 306 C397.5 312 397 319 395 324 C393.5 315 389.5 307.5 381 304.5 C376 306.5 370 307.5 365.5 306 C362.5 310 361 315 360.5 321 C360 323 358.5 323 358 320Z" fill="#c9c3bb" stroke="#6b645c" stroke-width="0.6"/>
<path d="M397 300 C402 306 404 316 402 326 M400.5 330 C402.5 336 400.5 341 397.5 343 M355.5 305 C353.5 312 353.5 320 355.5 326 M398 312 C400 318 400 324 398.5 329 M392 333 C393 338 394.5 341 397 343" stroke="#8a837a" stroke-width="0.9" fill="none"/>
<path d="M368 291 C376 288.5 387 290 394 296 M364 295.5 C371 292 380 291.5 387 295 M401 304 C403 308 403.5 313 403 317" stroke="#ece8e2" stroke-width="1" fill="none"/>
<!-- woman features -->
<path d="M364.5 316.5 Q368 314.8 371.5 316.5 M380.5 316 Q384 314.3 388 316" stroke="#4a3528" stroke-width="0.9" fill="none"/>
<path d="M365.5 318.5 h4.5 M382 318.2 h4.5" stroke="#3a2a20" stroke-width="1.2"/>
<path d="M376 319 C375.5 324 374 327.5 376 329 L379 328.5" stroke="#a47a5c" stroke-width="0.7" fill="none"/>
<path d="M369 333.5 C373 336 381.5 336 386 332 C383 338 372.5 338.5 369 333.5Z" fill="#c86a5e" stroke="#8e3c34" stroke-width="0.7"/>
<path d="M365.5 328 C365.5 332 366.5 334.5 368.5 336 M389.5 327 C389.5 331 388.5 333.5 386.5 335 M362.5 322 C363 326 364 329 365 331" stroke="#b38864" stroke-width="0.6" fill="none"/>

<!-- man jacket -->
<path d="M277.5 358.5 C286 353 297 349 306 344 L311 352 L327 351 L334 340 C342 343 348 347 352 351 C352 356 351 360 350 362.8 C325 364 298 363.5 277.5 358.5Z" fill="#6c5839" stroke="#2e2418" stroke-width="0.9"/>
<path d="M304 346 L303 362 M335 342 L331 362" stroke="#3a2d1c" stroke-width="0.8" fill="none"/>
<path d="M306 352 C310 357 318 360 328 354 L329 363 L305 363Z" fill="#8c867b" stroke="#3a3028" stroke-width="0.6"/>
<!-- man neck -->
<path d="M308 340 L307 351 C312 358 324 358 330 351 L330 338Z" fill="#cfa680" stroke="#5a3e2a" stroke-width="0.7"/>
<!-- man face -->
<path d="M300.5 310 C300 318 300 328 302 335 C304 342 310 349 318.5 351 C327 349 334 342 336.5 334 C339 327 339 318 339 310Z" fill="#d9b08a" stroke="#4a3424" stroke-width="0.8"/>
<path d="M338.5 316 C342 315 343 320 341.5 324 C340.5 327 338.5 328 337.5 327" fill="#d2a680" stroke="#4a3424" stroke-width="0.7"/>
<!-- hair sides -->
<path d="M334 309 L340 309 L340 318 L337 322 Z" fill="#4a3c2e"/>
<path d="M299.5 309 L303 309 L302 318 Z" fill="#4a3c2e"/>
<!-- cap -->
<path d="M291.5 307 C291 298 300 291.5 316 290 C332 288.5 342 295 343 304 L343 309.5 C334 307 318 306.5 300 312 C296 311.5 292.5 310 291.5 307Z" fill="#7d6d54" stroke="#2e2418" stroke-width="0.9"/>
<path d="M293 305 C300 300 320 297 342 301" stroke="#4e4030" stroke-width="0.8" fill="none"/>
<path d="M300 312 C306 309.5 316 308 326 308 L343 309.5" stroke="#2e2418" stroke-width="0.8" fill="none"/>
<!-- man features -->
<path d="M305 316.5 L313 315.5 M322 315.5 L331 316.5" stroke="#2e2218" stroke-width="1.4" fill="none"/>
<path d="M306.5 319.5 h5 M323.5 319.5 h5.5" stroke="#2a1e16" stroke-width="1.2"/>
<path d="M317.5 319 C317 324 315.5 328 318 329.5 L321 329" stroke="#8e6848" stroke-width="0.8" fill="none"/>
<path d="M307 336 C310 331.5 314 330.5 318 331.5 C322 330.5 326.5 331.5 329.5 336 C325 334.5 322 334.5 318 335 C314 334.5 311 334.5 307 336Z" fill="#3a2a1e" stroke="#2a1e16" stroke-width="0.8"/>
<path d="M313 339.5 h10" stroke="#8e5e48" stroke-width="0.9"/>
<path d="M303 326 C304 333 306 338 309 342 M335 326 C334 333 332 338 329 342" stroke="#b48a66" stroke-width="0.7" fill="none"/>

<!-- ============ RIGHT COUPLE ============ -->
<!-- woman red hoodie -->
<path d="M684.5 360.5 C689 354 694 349.5 700 346.5 L705 353 L722 353.5 L727 346 L730.5 340.5 C742 346 750 353 755.5 360.5 C735 363 705 363 684.5 360.5Z" fill="#d8403c" stroke="#8a2220" stroke-width="0.8"/>
<path d="M728 345 C733 350 736 356 736 361" stroke="#8e2422" stroke-width="0.8" fill="none"/>
<path d="M702 347 C702 354 703 358 704 361.5 M726 348 C727 354 727 358 726 361.5" stroke="#2a1e18" stroke-width="1.1" fill="none"/>
<!-- neck -->
<path d="M704 342 L704 353 C709 358 720 358 726 352 L725 340Z" fill="#d8ab84" stroke="#6e4d36" stroke-width="0.7"/>
<!-- woman face -->
<path d="M692.5 318 C692 310 700 306 712 306 C724 306 733 311 733.5 320 C734 332 728 345 713.5 351.5 C700 347 692.5 334 692.5 318Z" fill="#e1b690" stroke="#5e412e" stroke-width="0.8"/>
<path d="M733 322 C736 321 737 325 735.5 329 C734.5 331 733 332 732 331" fill="#d8aa84" stroke="#5e412e" stroke-width="0.6"/>
<!-- woman hair -->
<path d="M686 318 C684 304 694 292 712 290.5 C730 289 741 300 740.5 316 C740 322 738 326 735 327 C735 320 732 313 727 310 C720 313 708 313 700 309 C696 312 693 318 692.5 326 C689 325 687 322 686 318Z" fill="#8f877b" stroke="#4e473f" stroke-width="0.8"/>
<path d="M694 300 C700 295 708 294 714 296 M698 306 C706 300 716 299 724 302 M703 297 C700 302 698 306 697 311" stroke="#cfcabf" stroke-width="1.1" fill="none"/>
<path d="M722 294 C730 297 736 304 737 313 M689 310 C689 315 690 319 691 322" stroke="#5e574e" stroke-width="0.9" fill="none"/>
<!-- features -->
<path d="M699 320 Q702.5 318.5 706 320 M717 320 Q721 318.5 725 320.5" stroke="#4a3528" stroke-width="1" fill="none"/>
<path d="M700 322.5 h5 M718.5 322.5 h5" stroke="#3a2a20" stroke-width="1.2"/>
<path d="M711.5 323 C711 328 709.5 331 712 332.5 L715 332" stroke="#a27858" stroke-width="0.7" fill="none"/>
<path d="M704 337 C708 339 718 339 723 336.5 C720 342.5 708 343 704 337Z" fill="#f2ece4" stroke="#8e3c34" stroke-width="0.9"/>
<path d="M700 332 C700 336 701 339 703 341 M727 331 C727 335 726 338 724.5 340" stroke="#b08460" stroke-width="0.7" fill="none"/>

<!-- man jacket -->
<path d="M598.5 358.5 C608 354 620 351.5 630 348.5 L636 355 L654 352 L667 341.5 C678 346 686 351 692 356 C690 359 688 361 686 362.6 C660 364 625 364 598.5 358.5Z" fill="#8b8068" stroke="#2e261c" stroke-width="0.9"/>
<path d="M628 350 L624 362 M666 343 C662 350 658 356 655 362" stroke="#3e3426" stroke-width="0.9" fill="none"/>
<path d="M612 356 L618 362 M676 350 L672 361" stroke="#5e543e" stroke-width="0.7" fill="none"/>
<!-- neck -->
<path d="M633 342 L632 354 C637 359 650 358 656 351 L660 336Z" fill="#cc9c72" stroke="#4a3222" stroke-width="0.8"/>
<path d="M640 350 L645 362 M652 346 L649 360" stroke="#2e2218" stroke-width="0.8" fill="none"/>
<!-- man face -->
<path d="M618.5 312 C617.5 320 618 330 620.5 337 C623 344 629 349.5 638 351 C646 349.5 653 344 657 337 C660 330 661 320 660.5 312Z" fill="#d8aa7e" stroke="#3e2a1c" stroke-width="0.9"/>
<path d="M659.5 316 C664 314.5 665.5 320 663.5 325 C662.5 328 660 329.5 658.5 328.5" fill="#cf9f74" stroke="#3e2a1c" stroke-width="0.7"/>
<!-- shading on face right side -->
<path d="M652 314 C656 320 656 334 650 344 C654 340 658 334 659 326 L659.5 314Z" fill="#b98860" opacity="0.7"/>
<!-- dark hair -->
<path d="M617 314 L617.5 300 L662 298 L661 314Z" fill="#2a2018"/>
<path d="M617 312 C618 306 624 303 632 303 L660 303 L661 313 C661 320 660 324 657.5 326 C657 320 655 315 651 312 C644 313 636 311 630 308 C626 310 621 313 618.5 318Z" fill="#2a2018" stroke="#1c140e" stroke-width="0.6"/>
<!-- cap -->
<path d="M606 303.5 C605 296 615 289.5 633 288 C652 286.5 664 296 665.5 306 L665 313.5 C655 308 638 304 622 308 C616 310 611 309 606 303.5Z" fill="#8a7e66" stroke="#2a2018" stroke-width="1"/>
<path d="M606 303.5 C612 298 628 296 644 299 C654 301 661 306 665 313" stroke="#2a2018" stroke-width="0.9" fill="none"/>
<path d="M606 303.5 C612 298 628 296 644 299 C654 301 661 306 665 313 C655 308 638 304 622 308 C616 310 611 309 606 303.5Z" fill="#4e4434"/>
<path d="M616 293 C628 289 648 290 660 298" stroke="#aea28a" stroke-width="1" fill="none"/>
<!-- features -->
<path d="M623 318.5 L632 317 M641 316.5 L651 318" stroke="#1e160f" stroke-width="1.6" fill="none"/>
<path d="M624.5 321.5 h5.5 M642.5 321 h6" stroke="#1e160f" stroke-width="1.2"/>
<path d="M636 321 C635 326 633.5 330 636 331.5 L640 331" stroke="#8a6040" stroke-width="0.8" fill="none"/>
<path d="M626 339.5 C629 335 633 333.5 637.5 334.5 C642 333 646 334 649 338 C645 337.5 641 337.5 637.5 338 C633 337.5 630 338 626 339.5Z" fill="#2a1e16" stroke="#1e160f" stroke-width="0.9"/>
<path d="M633 342.5 h9" stroke="#8a5640" stroke-width="0.9"/>
</g>
</g>

<g id="buildings" stroke-linejoin="round">
<defs><filter id="bsoft" x="-5%" y="-5%" width="110%" height="110%"><feGaussianBlur stdDeviation="0.3"/></filter></defs>
<g filter="url(#bsoft)">
<path d="M54 653.2 C120 651.5 250 651.5 327 653.2 L327 655.2 C250 654.2 120 654.2 54 655.4Z" fill="#7a6a48"/>
<path d="M58 653 L327 653" stroke="#4a3e2a" stroke-width="0.8"/>
<path d="M68 650 L308 648 L310 654 L66 654Z" fill="#85744f"/>
<path d="M57 652 L59 645 L61 650 L62 642 L64.5 650 L66 646 L67 652Z" fill="#7f9a55"/>
<path d="M308 652 L309.5 641 L312 648 L314 636 L316.5 647 L318.5 640 L320 648 L322 644 L323 652Z" fill="#86a25c"/>
<path d="M320 622 L322.5 628 L327 619" stroke="#4e4638" stroke-width="0.7" fill="none"/>
<rect x="129" y="636" width="8" height="16" fill="#8c9a6a"/>
<path d="M93.7 615.6 L103.0 614.4 L103.0 621.5 L93.7 621.9Z" fill="#9c8a66" stroke="#2e261e" stroke-width="0.8"/><path d="M103.0 614.4 L114.3 615.4 L114.3 622.1 L103.0 621.5Z" fill="#bba983" stroke="#2e261e" stroke-width="0.8"/>
<path d="M70.5 628.3 L106.0 622.0 L106.0 652.2 L70.5 652.4Z" fill="#b7a37d" stroke="#2e261e" stroke-width="0.9"/><path d="M72.7 632.1 L77.2 631.4 L77.2 634.9 L72.7 635.5Z" fill="#77726a" stroke="#efe8d6" stroke-width="0.6"/><path d="M71.4 636.1 L78.5 635.5" stroke="#6e6250" stroke-width="0.9"/><path d="M72.7 638.9 L77.2 638.5 L77.2 642.0 L72.7 642.4Z" fill="#77726a" stroke="#efe8d6" stroke-width="0.6"/><path d="M71.4 643.0 L78.5 642.6" stroke="#6e6250" stroke-width="0.9"/><path d="M72.7 645.8 L77.2 645.5 L77.2 649.1 L72.7 649.2Z" fill="#77726a" stroke="#efe8d6" stroke-width="0.6"/><path d="M71.4 649.8 L78.5 649.7" stroke="#6e6250" stroke-width="0.9"/><path d="M81.6 630.8 L86.0 630.1 L86.0 633.8 L81.6 634.4Z" fill="#77726a" stroke="#efe8d6" stroke-width="0.6"/><path d="M80.3 635.0 L87.4 634.4" stroke="#6e6250" stroke-width="0.9"/><path d="M81.6 638.0 L86.0 637.6 L86.0 641.3 L81.6 641.7Z" fill="#77726a" stroke="#efe8d6" stroke-width="0.6"/><path d="M80.3 642.3 L87.4 641.9" stroke="#6e6250" stroke-width="0.9"/><path d="M81.6 645.3 L86.0 645.1 L86.0 648.8 L81.6 649.0Z" fill="#77726a" stroke="#efe8d6" stroke-width="0.6"/><path d="M80.3 649.6 L87.4 649.4" stroke="#6e6250" stroke-width="0.9"/><path d="M90.5 629.4 L94.9 628.8 L94.9 632.7 L90.5 633.3Z" fill="#77726a" stroke="#efe8d6" stroke-width="0.6"/><path d="M89.1 633.9 L96.2 633.3" stroke="#6e6250" stroke-width="0.9"/><path d="M90.5 637.1 L94.9 636.7 L94.9 640.7 L90.5 641.0Z" fill="#77726a" stroke="#efe8d6" stroke-width="0.6"/><path d="M89.1 641.6 L96.2 641.3" stroke="#6e6250" stroke-width="0.9"/><path d="M90.5 644.9 L94.9 644.6 L94.9 648.6 L90.5 648.7Z" fill="#77726a" stroke="#efe8d6" stroke-width="0.6"/><path d="M89.1 649.3 L96.2 649.2" stroke="#6e6250" stroke-width="0.9"/><path d="M99.3 628.1 L103.8 627.5 L103.8 631.6 L99.3 632.2Z" fill="#77726a" stroke="#efe8d6" stroke-width="0.6"/><path d="M98.0 632.8 L105.1 632.2" stroke="#6e6250" stroke-width="0.9"/><path d="M99.3 636.3 L103.8 635.8 L103.8 640.0 L99.3 640.3Z" fill="#77726a" stroke="#efe8d6" stroke-width="0.6"/><path d="M98.0 640.9 L105.1 640.6" stroke="#6e6250" stroke-width="0.9"/><path d="M99.3 644.4 L103.8 644.2 L103.8 648.3 L99.3 648.5Z" fill="#77726a" stroke="#efe8d6" stroke-width="0.6"/><path d="M98.0 649.1 L105.1 648.9" stroke="#6e6250" stroke-width="0.9"/>
<path d="M106.0 622.0 L129.8 624.2 L129.8 651.6 L106.0 652.2Z" fill="#d4c29e" stroke="#2e261e" stroke-width="0.9"/><path d="M109.3 627.3 L114.6 627.7 L114.6 631.6 L109.3 631.2Z" fill="#77726a" stroke="#efe8d6" stroke-width="0.6"/><path d="M109.3 635.2 L114.6 635.4 L114.6 639.3 L109.3 639.2Z" fill="#77726a" stroke="#efe8d6" stroke-width="0.6"/><path d="M109.3 643.2 L114.6 643.2 L114.6 647.1 L109.3 647.1Z" fill="#77726a" stroke="#efe8d6" stroke-width="0.6"/><path d="M121.2 628.1 L126.5 628.5 L126.5 632.2 L121.2 631.9Z" fill="#77726a" stroke="#efe8d6" stroke-width="0.6"/><path d="M121.2 635.7 L126.5 635.9 L126.5 639.6 L121.2 639.5Z" fill="#77726a" stroke="#efe8d6" stroke-width="0.6"/><path d="M121.2 643.3 L126.5 643.3 L126.5 647.1 L121.2 647.1Z" fill="#77726a" stroke="#efe8d6" stroke-width="0.6"/>
<path d="M163.5 583.9 L175.2 582.7 L175.2 594.5 L163.5 594.9Z" fill="#9c8a66" stroke="#2e261e" stroke-width="0.8"/><path d="M175.2 582.7 L189.5 583.7 L189.5 595.1 L175.2 594.5Z" fill="#bba983" stroke="#2e261e" stroke-width="0.8"/>
<path d="M136.1 601.8 L171.7 594.7 L171.7 649.4 L136.1 649.6Z" fill="#b7a37d" stroke="#2e261e" stroke-width="0.9"/><path d="M139.7 606.0 L150.3 604.0 L150.3 609.0 L139.7 610.8Z" fill="#77726a" stroke="#efe8d6" stroke-width="0.6"/><path d="M137.0 611.4 L153.0 609.6" stroke="#6e6250" stroke-width="0.9"/><path d="M139.7 614.7 L150.3 613.1 L150.3 618.1 L139.7 619.5Z" fill="#77726a" stroke="#efe8d6" stroke-width="0.6"/><path d="M137.0 620.1 L153.0 618.7" stroke="#6e6250" stroke-width="0.9"/><path d="M139.7 623.4 L150.3 622.2 L150.3 627.2 L139.7 628.2Z" fill="#77726a" stroke="#efe8d6" stroke-width="0.6"/><path d="M137.0 628.8 L153.0 627.8" stroke="#6e6250" stroke-width="0.9"/><path d="M139.7 632.1 L150.3 631.3 L150.3 636.3 L139.7 636.9Z" fill="#77726a" stroke="#efe8d6" stroke-width="0.6"/><path d="M137.0 637.5 L153.0 636.9" stroke="#6e6250" stroke-width="0.9"/><path d="M139.7 640.9 L150.3 640.4 L150.3 645.4 L139.7 645.7Z" fill="#77726a" stroke="#efe8d6" stroke-width="0.6"/><path d="M137.0 646.3 L153.0 646.0" stroke="#6e6250" stroke-width="0.9"/><path d="M157.5 602.8 L168.1 600.8 L168.1 606.2 L157.5 607.9Z" fill="#77726a" stroke="#efe8d6" stroke-width="0.6"/><path d="M154.8 608.5 L170.8 606.8" stroke="#6e6250" stroke-width="0.9"/><path d="M157.5 612.1 L168.1 610.6 L168.1 615.9 L157.5 617.3Z" fill="#77726a" stroke="#efe8d6" stroke-width="0.6"/><path d="M154.8 617.9 L170.8 616.5" stroke="#6e6250" stroke-width="0.9"/><path d="M157.5 621.5 L168.1 620.3 L168.1 625.6 L157.5 626.6Z" fill="#77726a" stroke="#efe8d6" stroke-width="0.6"/><path d="M154.8 627.2 L170.8 626.2" stroke="#6e6250" stroke-width="0.9"/><path d="M157.5 630.8 L168.1 630.0 L168.1 635.4 L157.5 635.9Z" fill="#77726a" stroke="#efe8d6" stroke-width="0.6"/><path d="M154.8 636.5 L170.8 636.0" stroke="#6e6250" stroke-width="0.9"/><path d="M157.5 640.2 L168.1 639.7 L168.1 645.1 L157.5 645.3Z" fill="#77726a" stroke="#efe8d6" stroke-width="0.6"/><path d="M154.8 645.9 L170.8 645.7" stroke="#6e6250" stroke-width="0.9"/>
<path d="M171.7 594.7 L196.3 592.0 L196.3 649.2 L171.7 649.4Z" fill="#d4c29e" stroke="#2e261e" stroke-width="0.9"/><path d="M175.1 600.1 L180.6 599.5 L180.6 604.4 L175.1 604.9Z" fill="#77726a" stroke="#efe8d6" stroke-width="0.6"/><path d="M175.1 609.7 L180.6 609.3 L180.6 614.2 L175.1 614.6Z" fill="#77726a" stroke="#efe8d6" stroke-width="0.6"/><path d="M175.1 619.4 L180.6 619.1 L180.6 624.0 L175.1 624.3Z" fill="#77726a" stroke="#efe8d6" stroke-width="0.6"/><path d="M175.1 629.1 L180.6 628.9 L180.6 633.8 L175.1 634.0Z" fill="#77726a" stroke="#efe8d6" stroke-width="0.6"/><path d="M175.1 638.8 L180.6 638.7 L180.6 643.5 L175.1 643.6Z" fill="#77726a" stroke="#efe8d6" stroke-width="0.6"/><path d="M187.4 598.8 L192.9 598.3 L192.9 603.3 L187.4 603.8Z" fill="#77726a" stroke="#efe8d6" stroke-width="0.6"/><path d="M187.4 608.7 L192.9 608.3 L192.9 613.3 L187.4 613.7Z" fill="#77726a" stroke="#efe8d6" stroke-width="0.6"/><path d="M187.4 618.6 L192.9 618.3 L192.9 623.3 L187.4 623.6Z" fill="#77726a" stroke="#efe8d6" stroke-width="0.6"/><path d="M187.4 628.6 L192.9 628.3 L192.9 633.3 L187.4 633.5Z" fill="#77726a" stroke="#efe8d6" stroke-width="0.6"/><path d="M187.4 638.5 L192.9 638.3 L192.9 643.3 L187.4 643.4Z" fill="#77726a" stroke="#efe8d6" stroke-width="0.6"/>
<path d="M210.0 583.0 L221.1 581.8 L221.1 592.5 L210.0 592.9Z" fill="#9c8a66" stroke="#2e261e" stroke-width="0.8"/><path d="M221.1 581.8 L234.6 582.8 L234.6 593.1 L221.1 592.5Z" fill="#bba983" stroke="#2e261e" stroke-width="0.8"/>
<path d="M196.3 592.0 L237.3 592.0 L237.3 648.8 L196.3 649.2Z" fill="#d4c29e" stroke="#2e261e" stroke-width="0.9"/><path d="M199.4 597.4 L206.9 597.4 L206.9 602.5 L199.4 602.5Z" fill="#77726a" stroke="#efe8d6" stroke-width="0.6"/><path d="M199.4 607.6 L206.9 607.6 L206.9 612.6 L199.4 612.7Z" fill="#77726a" stroke="#efe8d6" stroke-width="0.6"/><path d="M199.4 617.8 L206.9 617.7 L206.9 622.8 L199.4 622.8Z" fill="#77726a" stroke="#efe8d6" stroke-width="0.6"/><path d="M199.4 627.9 L206.9 627.9 L206.9 633.0 L199.4 633.0Z" fill="#77726a" stroke="#efe8d6" stroke-width="0.6"/><path d="M199.4 638.1 L206.9 638.0 L206.9 643.1 L199.4 643.2Z" fill="#77726a" stroke="#efe8d6" stroke-width="0.6"/><path d="M213.0 597.4 L220.6 597.4 L220.6 602.5 L213.0 602.5Z" fill="#77726a" stroke="#efe8d6" stroke-width="0.6"/><path d="M213.0 607.5 L220.6 607.5 L220.6 612.6 L213.0 612.6Z" fill="#77726a" stroke="#efe8d6" stroke-width="0.6"/><path d="M213.0 617.7 L220.6 617.7 L220.6 622.7 L213.0 622.8Z" fill="#77726a" stroke="#efe8d6" stroke-width="0.6"/><path d="M213.0 627.8 L220.6 627.8 L220.6 632.9 L213.0 632.9Z" fill="#77726a" stroke="#efe8d6" stroke-width="0.6"/><path d="M213.0 638.0 L220.6 637.9 L220.6 643.0 L213.0 643.1Z" fill="#77726a" stroke="#efe8d6" stroke-width="0.6"/><path d="M226.7 597.4 L234.2 597.4 L234.2 602.4 L226.7 602.4Z" fill="#77726a" stroke="#efe8d6" stroke-width="0.6"/><path d="M226.7 607.5 L234.2 607.5 L234.2 612.5 L226.7 612.6Z" fill="#77726a" stroke="#efe8d6" stroke-width="0.6"/><path d="M226.7 617.6 L234.2 617.6 L234.2 622.7 L226.7 622.7Z" fill="#77726a" stroke="#efe8d6" stroke-width="0.6"/><path d="M226.7 627.8 L234.2 627.7 L234.2 632.8 L226.7 632.8Z" fill="#77726a" stroke="#efe8d6" stroke-width="0.6"/><path d="M226.7 637.9 L234.2 637.8 L234.2 642.9 L226.7 643.0Z" fill="#77726a" stroke="#efe8d6" stroke-width="0.6"/>
<path d="M237.3 592.0 L253.7 595.5 L253.7 648.8 L237.3 648.8Z" fill="#b7a37d" stroke="#2e261e" stroke-width="0.9"/><path d="M241.4 599.7 L249.6 601.2 L249.6 605.8 L241.4 604.4Z" fill="#77726a" stroke="#efe8d6" stroke-width="0.6"/><path d="M241.4 609.1 L249.6 610.3 L249.6 614.9 L241.4 613.8Z" fill="#77726a" stroke="#efe8d6" stroke-width="0.6"/><path d="M241.4 618.5 L249.6 619.4 L249.6 624.0 L241.4 623.2Z" fill="#77726a" stroke="#efe8d6" stroke-width="0.6"/><path d="M241.4 627.9 L249.6 628.5 L249.6 633.1 L241.4 632.6Z" fill="#77726a" stroke="#efe8d6" stroke-width="0.6"/><path d="M241.4 637.3 L249.6 637.6 L249.6 642.2 L241.4 642.0Z" fill="#77726a" stroke="#efe8d6" stroke-width="0.6"/>
<rect x="207" y="642" width="6" height="7" fill="#3a342c"/><rect x="240" y="642" width="5" height="7" fill="#3a342c"/><rect x="184" y="641" width="2.5" height="8" fill="#3a342c"/>
<path d="M264.1 589.1 L274.8 587.9 L274.8 598.0 L264.1 598.4Z" fill="#9c8a66" stroke="#2e261e" stroke-width="0.8"/><path d="M274.8 587.9 L287.9 588.9 L287.9 598.6 L274.8 598.0Z" fill="#bba983" stroke="#2e261e" stroke-width="0.8"/>
<path d="M254.5 601.8 L274.2 596.9 L274.2 651.6 L254.5 651.8Z" fill="#b7a37d" stroke="#2e261e" stroke-width="0.9"/><path d="M258.9 606.1 L269.8 603.6 L269.8 608.5 L258.9 610.7Z" fill="#77726a" stroke="#efe8d6" stroke-width="0.6"/><path d="M256.0 611.3 L272.7 609.1" stroke="#6e6250" stroke-width="0.9"/><path d="M258.9 615.2 L269.8 613.3 L269.8 618.1 L258.9 619.8Z" fill="#77726a" stroke="#efe8d6" stroke-width="0.6"/><path d="M256.0 620.4 L272.7 618.7" stroke="#6e6250" stroke-width="0.9"/><path d="M258.9 624.4 L269.8 622.9 L269.8 627.8 L258.9 629.0Z" fill="#77726a" stroke="#efe8d6" stroke-width="0.6"/><path d="M256.0 629.6 L272.7 628.4" stroke="#6e6250" stroke-width="0.9"/><path d="M258.9 633.6 L269.8 632.6 L269.8 637.4 L258.9 638.2Z" fill="#77726a" stroke="#efe8d6" stroke-width="0.6"/><path d="M256.0 638.8 L272.7 638.0" stroke="#6e6250" stroke-width="0.9"/><path d="M258.9 642.8 L269.8 642.3 L269.8 647.1 L258.9 647.4Z" fill="#77726a" stroke="#efe8d6" stroke-width="0.6"/><path d="M256.0 648.0 L272.7 647.7" stroke="#6e6250" stroke-width="0.9"/>
<path d="M274.2 596.9 L307.0 600.2 L307.0 651.6 L274.2 651.6Z" fill="#d4c29e" stroke="#2e261e" stroke-width="0.9"/><path d="M279.1 605.8 L285.7 606.4 L285.7 611.2 L279.1 610.7Z" fill="#77726a" stroke="#efe8d6" stroke-width="0.6"/><path d="M279.1 616.6 L285.7 617.1 L285.7 621.9 L279.1 621.5Z" fill="#77726a" stroke="#efe8d6" stroke-width="0.6"/><path d="M279.1 627.5 L285.7 627.8 L285.7 632.6 L279.1 632.4Z" fill="#77726a" stroke="#efe8d6" stroke-width="0.6"/><path d="M279.1 638.3 L285.7 638.5 L285.7 643.3 L279.1 643.2Z" fill="#77726a" stroke="#efe8d6" stroke-width="0.6"/><path d="M295.5 607.2 L302.1 607.7 L302.1 612.4 L295.5 611.9Z" fill="#77726a" stroke="#efe8d6" stroke-width="0.6"/><path d="M295.5 617.7 L302.1 618.1 L302.1 622.8 L295.5 622.4Z" fill="#77726a" stroke="#efe8d6" stroke-width="0.6"/><path d="M295.5 628.2 L302.1 628.5 L302.1 633.2 L295.5 632.9Z" fill="#77726a" stroke="#efe8d6" stroke-width="0.6"/><path d="M295.5 638.7 L302.1 638.9 L302.1 643.6 L295.5 643.5Z" fill="#77726a" stroke="#efe8d6" stroke-width="0.6"/>
<path d="M294 621 l4 0 l0 6 l-4 0 Z M296 627 l0 4" stroke="#3a3228" stroke-width="0.8" fill="none"/>
<path d="M670 653.6 C740 652 880 652 971 653.6 L971 655.6 C880 654.6 740 654.6 670 655.8Z" fill="#7a6a48"/>
<path d="M674 653.4 L970 653.4" stroke="#4a3e2a" stroke-width="0.8"/>
<path d="M682 650 L950 648 L952 654.5 L680 654.5Z" fill="#85744f"/>
<path d="M672 653 L676 647 L678 653Z" fill="#7f9a55"/>
<path d="M950 652 L952 644 L954 649 L956.5 641 L958.5 648 L960.5 643 L962 652Z" fill="#86a25c"/>
<path d="M713.0 591.6 L726.0 590.4 L726.0 599.0 L713.0 599.4Z" fill="#9c8a66" stroke="#2e261e" stroke-width="0.8"/><path d="M726.0 590.4 L742.0 591.4 L742.0 599.6 L726.0 599.0Z" fill="#bba983" stroke="#2e261e" stroke-width="0.8"/>
<path d="M684.0 609.0 L722.0 600.5 L722.0 651.8 L684.0 652.2Z" fill="#b7a37d" stroke="#2e261e" stroke-width="0.9"/><path d="M686.9 613.8 L693.8 612.4 L693.8 616.4 L686.9 617.6Z" fill="#77726a" stroke="#efe8d6" stroke-width="0.6"/><path d="M685.0 618.2 L695.7 617.0" stroke="#6e6250" stroke-width="0.9"/><path d="M686.9 621.5 L693.8 620.4 L693.8 624.4 L686.9 625.4Z" fill="#77726a" stroke="#efe8d6" stroke-width="0.6"/><path d="M685.0 626.0 L695.7 625.0" stroke="#6e6250" stroke-width="0.9"/><path d="M686.9 629.2 L693.8 628.4 L693.8 632.3 L686.9 633.1Z" fill="#77726a" stroke="#efe8d6" stroke-width="0.6"/><path d="M685.0 633.7 L695.7 632.9" stroke="#6e6250" stroke-width="0.9"/><path d="M686.9 636.9 L693.8 636.3 L693.8 640.3 L686.9 640.8Z" fill="#77726a" stroke="#efe8d6" stroke-width="0.6"/><path d="M685.0 641.4 L695.7 640.9" stroke="#6e6250" stroke-width="0.9"/><path d="M686.9 644.6 L693.8 644.3 L693.8 648.3 L686.9 648.5Z" fill="#77726a" stroke="#efe8d6" stroke-width="0.6"/><path d="M685.0 649.1 L695.7 648.9" stroke="#6e6250" stroke-width="0.9"/><path d="M699.5 611.3 L706.5 609.9 L706.5 614.1 L699.5 615.4Z" fill="#77726a" stroke="#efe8d6" stroke-width="0.6"/><path d="M697.6 616.0 L708.4 614.7" stroke="#6e6250" stroke-width="0.9"/><path d="M699.5 619.5 L706.5 618.4 L706.5 622.6 L699.5 623.6Z" fill="#77726a" stroke="#efe8d6" stroke-width="0.6"/><path d="M697.6 624.2 L708.4 623.2" stroke="#6e6250" stroke-width="0.9"/><path d="M699.5 627.7 L706.5 626.8 L706.5 631.0 L699.5 631.8Z" fill="#77726a" stroke="#efe8d6" stroke-width="0.6"/><path d="M697.6 632.4 L708.4 631.6" stroke="#6e6250" stroke-width="0.9"/><path d="M699.5 635.9 L706.5 635.3 L706.5 639.5 L699.5 639.9Z" fill="#77726a" stroke="#efe8d6" stroke-width="0.6"/><path d="M697.6 640.5 L708.4 640.1" stroke="#6e6250" stroke-width="0.9"/><path d="M699.5 644.0 L706.5 643.7 L706.5 647.9 L699.5 648.1Z" fill="#77726a" stroke="#efe8d6" stroke-width="0.6"/><path d="M697.6 648.7 L708.4 648.5" stroke="#6e6250" stroke-width="0.9"/><path d="M712.2 608.8 L719.1 607.4 L719.1 611.9 L712.2 613.1Z" fill="#77726a" stroke="#efe8d6" stroke-width="0.6"/><path d="M710.3 613.7 L721.0 612.5" stroke="#6e6250" stroke-width="0.9"/><path d="M712.2 617.5 L719.1 616.3 L719.1 620.8 L712.2 621.8Z" fill="#77726a" stroke="#efe8d6" stroke-width="0.6"/><path d="M710.3 622.4 L721.0 621.4" stroke="#6e6250" stroke-width="0.9"/><path d="M712.2 626.1 L719.1 625.3 L719.1 629.7 L712.2 630.4Z" fill="#77726a" stroke="#efe8d6" stroke-width="0.6"/><path d="M710.3 631.0 L721.0 630.3" stroke="#6e6250" stroke-width="0.9"/><path d="M712.2 634.8 L719.1 634.2 L719.1 638.6 L712.2 639.1Z" fill="#77726a" stroke="#efe8d6" stroke-width="0.6"/><path d="M710.3 639.7 L721.0 639.2" stroke="#6e6250" stroke-width="0.9"/><path d="M712.2 643.4 L719.1 643.1 L719.1 647.6 L712.2 647.8Z" fill="#77726a" stroke="#efe8d6" stroke-width="0.6"/><path d="M710.3 648.4 L721.0 648.2" stroke="#6e6250" stroke-width="0.9"/>
<path d="M722.0 600.5 L745.5 598.5 L745.5 651.6 L722.0 651.8Z" fill="#d4c29e" stroke="#2e261e" stroke-width="0.9"/><path d="M725.2 606.6 L730.5 606.2 L730.5 610.6 L725.2 611.0Z" fill="#77726a" stroke="#efe8d6" stroke-width="0.6"/><path d="M725.2 615.4 L730.5 615.1 L730.5 619.6 L725.2 619.9Z" fill="#77726a" stroke="#efe8d6" stroke-width="0.6"/><path d="M725.2 624.3 L730.5 624.0 L730.5 628.5 L725.2 628.7Z" fill="#77726a" stroke="#efe8d6" stroke-width="0.6"/><path d="M725.2 633.2 L730.5 633.0 L730.5 637.4 L725.2 637.6Z" fill="#77726a" stroke="#efe8d6" stroke-width="0.6"/><path d="M725.2 642.0 L730.5 641.9 L730.5 646.4 L725.2 646.5Z" fill="#77726a" stroke="#efe8d6" stroke-width="0.6"/><path d="M737.0 605.7 L742.3 605.3 L742.3 609.8 L737.0 610.2Z" fill="#77726a" stroke="#efe8d6" stroke-width="0.6"/><path d="M737.0 614.7 L742.3 614.4 L742.3 618.9 L737.0 619.2Z" fill="#77726a" stroke="#efe8d6" stroke-width="0.6"/><path d="M737.0 623.7 L742.3 623.5 L742.3 628.0 L737.0 628.2Z" fill="#77726a" stroke="#efe8d6" stroke-width="0.6"/><path d="M737.0 632.7 L742.3 632.5 L742.3 637.1 L737.0 637.2Z" fill="#77726a" stroke="#efe8d6" stroke-width="0.6"/><path d="M737.0 641.8 L742.3 641.6 L742.3 646.2 L737.0 646.3Z" fill="#77726a" stroke="#efe8d6" stroke-width="0.6"/>
<path d="M763.8 582.8 L777.4 581.6 L777.4 591.5 L763.8 591.9Z" fill="#9c8a66" stroke="#2e261e" stroke-width="0.8"/><path d="M777.4 581.6 L794.0 582.6 L794.0 592.1 L777.4 591.5Z" fill="#bba983" stroke="#2e261e" stroke-width="0.8"/>
<path d="M745.5 598.0 L790.0 589.5 L790.0 649.5 L745.5 651.6Z" fill="#d4c29e" stroke="#2e261e" stroke-width="0.9"/><path d="M748.8 603.0 L757.0 601.6 L757.0 606.5 L748.8 607.8Z" fill="#77726a" stroke="#efe8d6" stroke-width="0.6"/><path d="M746.6 608.4 L759.2 607.1" stroke="#6e6250" stroke-width="0.9"/><path d="M748.8 612.6 L757.0 611.4 L757.0 616.3 L748.8 617.5Z" fill="#77726a" stroke="#efe8d6" stroke-width="0.6"/><path d="M746.6 618.1 L759.2 616.9" stroke="#6e6250" stroke-width="0.9"/><path d="M748.8 622.3 L757.0 621.2 L757.0 626.2 L748.8 627.1Z" fill="#77726a" stroke="#efe8d6" stroke-width="0.6"/><path d="M746.6 627.7 L759.2 626.8" stroke="#6e6250" stroke-width="0.9"/><path d="M748.8 631.9 L757.0 631.1 L757.0 636.0 L748.8 636.7Z" fill="#77726a" stroke="#efe8d6" stroke-width="0.6"/><path d="M746.6 637.3 L759.2 636.6" stroke="#6e6250" stroke-width="0.9"/><path d="M748.8 641.5 L757.0 640.9 L757.0 645.8 L748.8 646.3Z" fill="#77726a" stroke="#efe8d6" stroke-width="0.6"/><path d="M746.6 646.9 L759.2 646.4" stroke="#6e6250" stroke-width="0.9"/><path d="M763.7 600.4 L771.8 599.0 L771.8 604.1 L763.7 605.4Z" fill="#77726a" stroke="#efe8d6" stroke-width="0.6"/><path d="M761.4 606.0 L774.1 604.7" stroke="#6e6250" stroke-width="0.9"/><path d="M763.7 610.4 L771.8 609.2 L771.8 614.3 L763.7 615.4Z" fill="#77726a" stroke="#efe8d6" stroke-width="0.6"/><path d="M761.4 616.0 L774.1 614.9" stroke="#6e6250" stroke-width="0.9"/><path d="M763.7 620.4 L771.8 619.4 L771.8 624.5 L763.7 625.4Z" fill="#77726a" stroke="#efe8d6" stroke-width="0.6"/><path d="M761.4 626.0 L774.1 625.1" stroke="#6e6250" stroke-width="0.9"/><path d="M763.7 630.4 L771.8 629.6 L771.8 634.7 L763.7 635.4Z" fill="#77726a" stroke="#efe8d6" stroke-width="0.6"/><path d="M761.4 636.0 L774.1 635.3" stroke="#6e6250" stroke-width="0.9"/><path d="M763.7 640.4 L771.8 639.8 L771.8 644.9 L763.7 645.4Z" fill="#77726a" stroke="#efe8d6" stroke-width="0.6"/><path d="M761.4 646.0 L774.1 645.5" stroke="#6e6250" stroke-width="0.9"/><path d="M778.5 597.8 L786.7 596.4 L786.7 601.7 L778.5 603.0Z" fill="#77726a" stroke="#efe8d6" stroke-width="0.6"/><path d="M776.3 603.6 L788.9 602.3" stroke="#6e6250" stroke-width="0.9"/><path d="M778.5 608.2 L786.7 607.0 L786.7 612.2 L778.5 613.4Z" fill="#77726a" stroke="#efe8d6" stroke-width="0.6"/><path d="M776.3 614.0 L788.9 612.8" stroke="#6e6250" stroke-width="0.9"/><path d="M778.5 618.6 L786.7 617.5 L786.7 622.8 L778.5 623.8Z" fill="#77726a" stroke="#efe8d6" stroke-width="0.6"/><path d="M776.3 624.4 L788.9 623.4" stroke="#6e6250" stroke-width="0.9"/><path d="M778.5 629.0 L786.7 628.1 L786.7 633.4 L778.5 634.1Z" fill="#77726a" stroke="#efe8d6" stroke-width="0.6"/><path d="M776.3 634.7 L788.9 634.0" stroke="#6e6250" stroke-width="0.9"/><path d="M778.5 639.3 L786.7 638.7 L786.7 644.0 L778.5 644.5Z" fill="#77726a" stroke="#efe8d6" stroke-width="0.6"/><path d="M776.3 645.1 L788.9 644.6" stroke="#6e6250" stroke-width="0.9"/>
<path d="M790.0 589.5 L824.6 596.0 L824.6 649.5 L790.0 649.5Z" fill="#d4c29e" stroke="#2e261e" stroke-width="0.9"/><path d="M795.0 597.8 L802.3 599.0 L802.3 603.7 L795.0 602.6Z" fill="#77726a" stroke="#efe8d6" stroke-width="0.6"/><path d="M795.0 607.8 L802.3 608.8 L802.3 613.5 L795.0 612.6Z" fill="#77726a" stroke="#efe8d6" stroke-width="0.6"/><path d="M795.0 617.9 L802.3 618.6 L802.3 623.3 L795.0 622.7Z" fill="#77726a" stroke="#efe8d6" stroke-width="0.6"/><path d="M795.0 627.9 L802.3 628.4 L802.3 633.1 L795.0 632.7Z" fill="#77726a" stroke="#efe8d6" stroke-width="0.6"/><path d="M795.0 637.9 L802.3 638.2 L802.3 642.9 L795.0 642.8Z" fill="#77726a" stroke="#efe8d6" stroke-width="0.6"/><path d="M812.3 600.6 L819.6 601.8 L819.6 606.3 L812.3 605.2Z" fill="#77726a" stroke="#efe8d6" stroke-width="0.6"/><path d="M812.3 610.1 L819.6 611.1 L819.6 615.5 L812.3 614.7Z" fill="#77726a" stroke="#efe8d6" stroke-width="0.6"/><path d="M812.3 619.6 L819.6 620.3 L819.6 624.8 L812.3 624.2Z" fill="#77726a" stroke="#efe8d6" stroke-width="0.6"/><path d="M812.3 629.1 L819.6 629.6 L819.6 634.0 L812.3 633.6Z" fill="#77726a" stroke="#efe8d6" stroke-width="0.6"/><path d="M812.3 638.6 L819.6 638.8 L819.6 643.3 L812.3 643.1Z" fill="#77726a" stroke="#efe8d6" stroke-width="0.6"/>
<path d="M845.0 593.2 L857.1 592.0 L857.1 601.0 L845.0 601.4Z" fill="#9c8a66" stroke="#2e261e" stroke-width="0.8"/><path d="M857.1 592.0 L872.0 593.0 L872.0 601.6 L857.1 601.0Z" fill="#bba983" stroke="#2e261e" stroke-width="0.8"/>
<path d="M824.6 607.0 L858.0 600.5 L858.0 651.2 L824.6 651.4Z" fill="#b7a37d" stroke="#2e261e" stroke-width="0.9"/><path d="M828.4 611.0 L837.5 609.4 L837.5 613.6 L828.4 615.1Z" fill="#77726a" stroke="#efe8d6" stroke-width="0.6"/><path d="M825.9 615.7 L840.0 614.2" stroke="#6e6250" stroke-width="0.9"/><path d="M828.4 619.1 L837.5 617.8 L837.5 622.0 L828.4 623.2Z" fill="#77726a" stroke="#efe8d6" stroke-width="0.6"/><path d="M825.9 623.8 L840.0 622.6" stroke="#6e6250" stroke-width="0.9"/><path d="M828.4 627.2 L837.5 626.3 L837.5 630.5 L828.4 631.3Z" fill="#77726a" stroke="#efe8d6" stroke-width="0.6"/><path d="M825.9 631.9 L840.0 631.1" stroke="#6e6250" stroke-width="0.9"/><path d="M828.4 635.4 L837.5 634.7 L837.5 638.9 L828.4 639.4Z" fill="#77726a" stroke="#efe8d6" stroke-width="0.6"/><path d="M825.9 640.0 L840.0 639.5" stroke="#6e6250" stroke-width="0.9"/><path d="M828.4 643.5 L837.5 643.1 L837.5 647.3 L828.4 647.5Z" fill="#77726a" stroke="#efe8d6" stroke-width="0.6"/><path d="M825.9 648.1 L840.0 647.9" stroke="#6e6250" stroke-width="0.9"/><path d="M845.1 608.1 L854.2 606.5 L854.2 611.0 L845.1 612.4Z" fill="#77726a" stroke="#efe8d6" stroke-width="0.6"/><path d="M842.6 613.0 L856.7 611.6" stroke="#6e6250" stroke-width="0.9"/><path d="M845.1 616.8 L854.2 615.5 L854.2 620.0 L845.1 621.1Z" fill="#77726a" stroke="#efe8d6" stroke-width="0.6"/><path d="M842.6 621.7 L856.7 620.6" stroke="#6e6250" stroke-width="0.9"/><path d="M845.1 625.5 L854.2 624.5 L854.2 629.0 L845.1 629.8Z" fill="#77726a" stroke="#efe8d6" stroke-width="0.6"/><path d="M842.6 630.4 L856.7 629.6" stroke="#6e6250" stroke-width="0.9"/><path d="M845.1 634.1 L854.2 633.5 L854.2 638.0 L845.1 638.5Z" fill="#77726a" stroke="#efe8d6" stroke-width="0.6"/><path d="M842.6 639.1 L856.7 638.6" stroke="#6e6250" stroke-width="0.9"/><path d="M845.1 642.8 L854.2 642.5 L854.2 647.0 L845.1 647.2Z" fill="#77726a" stroke="#efe8d6" stroke-width="0.6"/><path d="M842.6 647.8 L856.7 647.6" stroke="#6e6250" stroke-width="0.9"/>
<path d="M858.0 600.5 L892.5 604.5 L892.5 651.2 L858.0 651.2Z" fill="#d4c29e" stroke="#2e261e" stroke-width="0.9"/><path d="M863.0 607.3 L870.2 608.0 L870.2 612.1 L863.0 611.4Z" fill="#77726a" stroke="#efe8d6" stroke-width="0.6"/><path d="M863.0 615.8 L870.2 616.4 L870.2 620.4 L863.0 619.9Z" fill="#77726a" stroke="#efe8d6" stroke-width="0.6"/><path d="M863.0 624.3 L870.2 624.8 L870.2 628.8 L863.0 628.4Z" fill="#77726a" stroke="#efe8d6" stroke-width="0.6"/><path d="M863.0 632.9 L870.2 633.2 L870.2 637.2 L863.0 637.0Z" fill="#77726a" stroke="#efe8d6" stroke-width="0.6"/><path d="M863.0 641.4 L870.2 641.6 L870.2 645.6 L863.0 645.5Z" fill="#77726a" stroke="#efe8d6" stroke-width="0.6"/><path d="M880.3 609.1 L887.5 609.8 L887.5 613.7 L880.3 613.0Z" fill="#77726a" stroke="#efe8d6" stroke-width="0.6"/><path d="M880.3 617.2 L887.5 617.8 L887.5 621.7 L880.3 621.2Z" fill="#77726a" stroke="#efe8d6" stroke-width="0.6"/><path d="M880.3 625.4 L887.5 625.9 L887.5 629.7 L880.3 629.3Z" fill="#77726a" stroke="#efe8d6" stroke-width="0.6"/><path d="M880.3 633.6 L887.5 633.9 L887.5 637.8 L880.3 637.5Z" fill="#77726a" stroke="#efe8d6" stroke-width="0.6"/><path d="M880.3 641.8 L887.5 641.9 L887.5 645.8 L880.3 645.7Z" fill="#77726a" stroke="#efe8d6" stroke-width="0.6"/>
<rect x="868.5" y="644" width="1.6" height="7" fill="#2e2820"/><rect x="872" y="644" width="1.6" height="7" fill="#2e2820"/>
<path d="M904.0 604.6 L915.7 603.4 L915.7 611.5 L904.0 611.9Z" fill="#9c8a66" stroke="#2e261e" stroke-width="0.8"/><path d="M915.7 603.4 L930.0 604.4 L930.0 612.1 L915.7 611.5Z" fill="#bba983" stroke="#2e261e" stroke-width="0.8"/>
<path d="M892.5 617.0 L917.0 611.5 L917.0 651.6 L892.5 651.8Z" fill="#b7a37d" stroke="#2e261e" stroke-width="0.9"/><path d="M895.3 620.5 L902.0 619.2 L902.0 623.3 L895.3 624.5Z" fill="#77726a" stroke="#efe8d6" stroke-width="0.6"/><path d="M893.4 625.1 L903.8 623.9" stroke="#6e6250" stroke-width="0.9"/><path d="M895.3 628.5 L902.0 627.4 L902.0 631.6 L895.3 632.4Z" fill="#77726a" stroke="#efe8d6" stroke-width="0.6"/><path d="M893.4 633.0 L903.8 632.2" stroke="#6e6250" stroke-width="0.9"/><path d="M895.3 636.4 L902.0 635.7 L902.0 639.9 L895.3 640.4Z" fill="#77726a" stroke="#efe8d6" stroke-width="0.6"/><path d="M893.4 641.0 L903.8 640.5" stroke="#6e6250" stroke-width="0.9"/><path d="M895.3 644.4 L902.0 644.0 L902.0 648.2 L895.3 648.4Z" fill="#77726a" stroke="#efe8d6" stroke-width="0.6"/><path d="M893.4 649.0 L903.8 648.8" stroke="#6e6250" stroke-width="0.9"/><path d="M907.5 618.1 L914.2 616.7 L914.2 621.2 L907.5 622.3Z" fill="#77726a" stroke="#efe8d6" stroke-width="0.6"/><path d="M905.7 622.9 L916.1 621.8" stroke="#6e6250" stroke-width="0.9"/><path d="M907.5 626.6 L914.2 625.6 L914.2 630.0 L907.5 630.9Z" fill="#77726a" stroke="#efe8d6" stroke-width="0.6"/><path d="M905.7 631.5 L916.1 630.6" stroke="#6e6250" stroke-width="0.9"/><path d="M907.5 635.2 L914.2 634.5 L914.2 638.9 L907.5 639.5Z" fill="#77726a" stroke="#efe8d6" stroke-width="0.6"/><path d="M905.7 640.1 L916.1 639.5" stroke="#6e6250" stroke-width="0.9"/><path d="M907.5 643.7 L914.2 643.4 L914.2 647.8 L907.5 648.0Z" fill="#77726a" stroke="#efe8d6" stroke-width="0.6"/><path d="M905.7 648.6 L916.1 648.4" stroke="#6e6250" stroke-width="0.9"/>
<path d="M917.0 611.5 L949.4 614.0 L949.4 651.6 L917.0 651.6Z" fill="#d4c29e" stroke="#2e261e" stroke-width="0.9"/><path d="M922.0 619.8 L928.2 620.1 L928.2 624.2 L922.0 623.9Z" fill="#77726a" stroke="#efe8d6" stroke-width="0.6"/><path d="M922.0 630.1 L928.2 630.3 L928.2 634.4 L922.0 634.2Z" fill="#77726a" stroke="#efe8d6" stroke-width="0.6"/><path d="M922.0 640.4 L928.2 640.5 L928.2 644.6 L922.0 644.5Z" fill="#77726a" stroke="#efe8d6" stroke-width="0.6"/><path d="M938.2 620.8 L944.4 621.1 L944.4 625.1 L938.2 624.8Z" fill="#77726a" stroke="#efe8d6" stroke-width="0.6"/><path d="M938.2 630.8 L944.4 631.0 L944.4 635.0 L938.2 634.8Z" fill="#77726a" stroke="#efe8d6" stroke-width="0.6"/><path d="M938.2 640.8 L944.4 640.9 L944.4 644.8 L938.2 644.8Z" fill="#77726a" stroke="#efe8d6" stroke-width="0.6"/>
<path d="M936 632 l5 0 l0 6 l-5 0Z M938.5 638 l0 5 M935 634 l-2 -2 M942 634 l2 -2" stroke="#3a3228" stroke-width="0.8" fill="none"/>
</g></g>
<g id="man" stroke-linejoin="round" stroke-linecap="round">
<defs>
  <filter id="msoft" x="-5%" y="-5%" width="110%" height="110%"><feGaussianBlur stdDeviation="0.4"/></filter>
  <linearGradient id="chairg" x1="0" y1="0" x2="1" y2="0">
    <stop offset="0" stop-color="#3e2817"/><stop offset="0.7" stop-color="#4e321d"/><stop offset="1" stop-color="#6e4a2c"/>
  </linearGradient>
  <linearGradient id="shirtg" x1="0" y1="0" x2="1" y2="1">
    <stop offset="0" stop-color="#8d8e6e"/><stop offset="1" stop-color="#7f8063"/>
  </linearGradient>
</defs>
<g filter="url(#msoft)">
<!-- table shadow line -->
<path d="M576 924.6 C640 923 760 923 832 924.4 L832 927.6 C760 926.2 640 926.4 576 927.8Z" fill="#b9aa94"/>
<path d="M580 928.5 C660 927.5 760 927.5 828 928.5" stroke="#ddd5c8" stroke-width="1.4" fill="none"/>

<!-- chair back -->
<path d="M652 804 C664 797 680 793.5 696 792.5 L740 792.5 C756 792 780 795 793 800.5 C800 803 803.5 809 804.5 818 C807 845 809.5 880 805 923.5 L740 923.5 L700 830Z" fill="url(#chairg)" stroke="#1e140c" stroke-width="1.1"/>
<path d="M795 806 C799 830 801 880 797 922" stroke="#8a6240" stroke-width="1.6" fill="none" opacity="0.8"/>
<!-- chair behind torso (left) -->
<path d="M640 852 L664 846 L664 923 L632 923 Z" fill="#3e2817"/>
<!-- left armrest -->
<path d="M602 923.5 C600 906 604 894 618 892 C632 890.5 650 892 660 896 L662 923.5Z" fill="#57371f" stroke="#1e140c" stroke-width="1.1"/>
<path d="M607 905 C610 898 620 896 632 897" stroke="#8a6240" stroke-width="1.6" fill="none" opacity="0.8"/>
<ellipse cx="622" cy="903" rx="7" ry="4" fill="#7a5434" opacity="0.55"/>

<!-- raised arm: forearm + upper arm -->
<path d="M603.2 755 C599 776 593 794 589.9 806.2 C587.5 816 586 826 585.8 836 C586.5 843 592 846 599.9 846 L641 846 L641 812 L623.2 808 C623.5 792 624 776 624.8 759Z" fill="#e6b98f" stroke="#24170f" stroke-width="1.2"/>
<path d="M604 758 C600 778 594 796 591 808 C588.5 818 587 828 587 836 C588 842 593 845 600 845 L640 845 L640 838 C626 840 606 840 598 832 C597 812 604 786 610 760Z" fill="#c8966c" opacity="0.75"/>
<path d="M623 808 C622 818 619 826 613 833" stroke="#9a6c48" stroke-width="0.9" fill="none"/>
<!-- fist -->
<path d="M603.2 756 C601 746 600.5 736 601.6 728 C602.5 718 605 712 609.9 708.3 C618 703 630 700.5 641.4 700.8 C648 702 653 706 654.7 711.6 C654.5 717 651.5 722 648 726.5 C644 734 638 741 631.4 746.4 C629 751 627 756 624.8 760 C617 761 609 759.5 603.2 756Z" fill="#e8bc92" stroke="#24170f" stroke-width="1.2"/>
<path d="M607 724 C613 718 622 716 630 718 M628 704 C632 709 634 715 633 721 M639 703 C643 708 645 714 643 720 M608 742 C615 740 621 741 626 744 M618 708 C622 712 624 716 624 720" stroke="#7e5436" stroke-width="0.9" fill="none"/>
<path d="M603 730 C603 740 604 748 606 754" stroke="#c8966c" stroke-width="2" fill="none" opacity="0.7"/>
<!-- keys -->
<path d="M645 721 C650.5 725 650.5 735 646 739" stroke="#8f8f88" stroke-width="1" fill="none"/>
<path d="M636 737 C639 734 645 733.5 648.5 736 L652.5 738.5 L653 752.5 L648.2 757.5 L648 781 L645.2 783 L643.2 780 L644.6 776.5 L643.4 773.5 L644 758 L637 757 C634 751 633.5 742 636 737Z" fill="#c9ab55" stroke="#5e4a1c" stroke-width="0.8"/>
<ellipse cx="643" cy="739.5" rx="2.2" ry="2.6" fill="#f3efe6" stroke="#5e4a1c" stroke-width="0.5"/>
<ellipse cx="646.5" cy="750.5" rx="2" ry="2.4" fill="#f3efe6" stroke="#5e4a1c" stroke-width="0.5"/>
<ellipse cx="637.5" cy="746" rx="2.4" ry="2" fill="#f3efe6" stroke="#5e4a1c" stroke-width="0.5"/>
<!-- neck -->
<path d="M699 796 L695 800 C698 822 712 836 722 836 C736 834 750 818 753 798 L742 784Z" fill="#deae84" stroke="#24170f" stroke-width="1"/>
<path d="M704 806 C710 812 716 816 722 830 M738 796 C734 806 730 816 724 828" stroke="#8e6242" stroke-width="0.9" fill="none"/>
<path d="M700 798 C712 808 730 804 742 788 L742 800 C730 812 712 814 700 806Z" fill="#b98a62" opacity="0.7"/>

<!-- shirt -->
<path d="M624.8 810.3 C634 807.5 644 806 651.4 804.5 C658 801 664 798 668 796.2 C678 794.5 688 795.5 696 797.5 C700 816 712 832 722 833.5 C736 832 748 818 752 797 C764 798 776 806 788 818 C794 826 797 834 798.5 842 C797 862 793 884 789 899 C778 893 766 880 755 869 C740 888 722 905 700 912 C686 914 672 915 660 916 L661 846 C654 851 646 856 638.6 859 C632 859 626 858.5 621.5 857.7 L618.2 849.6 L639 846 C640.5 838 640 826 634.5 818 C631.5 814.5 628 812 624.8 810.3Z" fill="url(#shirtg)" stroke="#1e1a12" stroke-width="1.2"/>
<!-- shirt folds -->
<g stroke="#5e6046" stroke-width="1.3" fill="none" opacity="0.85">
  <path d="M664 846 C668 860 672 880 670 905"/>
  <path d="M690 842 C700 850 716 852 732 846"/>
  <path d="M680 866 C690 880 694 894 692 908"/>
  <path d="M740 836 C746 850 750 860 754 868"/>
  <path d="M770 812 C780 824 784 840 782 856"/>
  <path d="M712 860 C716 876 716 890 710 904"/>
</g>
<path d="M752 797 C764 798 776 806 788 818 C794 826 797 834 798.5 842 C797 862 793 884 789 899 C786 880 784 850 770 826 C764 816 758 806 752 797Z" fill="#6f7156" opacity="0.55"/>
<path d="M661 846 C666 870 666 896 660 916 L676 914 C680 890 676 864 668 842Z" fill="#6f7156" opacity="0.5"/>
<!-- collar rim -->
<path d="M696 797.5 C700 816 712 832 722 833.5 C736 832 748 818 752 797" stroke="#5a5c44" stroke-width="2.2" fill="none"/>

<!-- right arm on table -->
<path d="M755 869 C766 880 778 893 789 899 C786 908 776 918 762 923.5 L640 923.5 C634 922 634 917 640 915 C660 910 690 905 712 896 C728 888 742 879 755 869Z" fill="#e6b98f" stroke="#24170f" stroke-width="1.2"/>
<path d="M770 890 C766 902 756 912 744 918 M700 905 C716 904 734 900 748 892" stroke="#c08e64" stroke-width="1.6" fill="none" opacity="0.8"/>
<path d="M640 915 C648 914 656 914 662 916" stroke="#7e5436" stroke-width="0.8" fill="none"/>

<!-- head: ear, face -->
<path d="M741.4 785.2 C742 776 743.5 768 746 758 L738 750 L736 780Z" fill="#2e241c"/>
<path d="M740 757.5 C743.5 751.5 751.6 751.5 751.8 758.5 C751.6 766 748 774 741.4 777.6 C739.5 772 739.5 764 740 757.5Z" fill="#dcaa80" stroke="#24170f" stroke-width="1"/>
<path d="M743.5 758 C746 756 748.5 757.5 748 761 C747.5 765 746 769 743.5 772" stroke="#8e6242" stroke-width="0.9" fill="none"/>
<path d="M681.1 752 C681 760 682 767 683.6 772.5 C685 780 687 785 689.4 789 C692 794.5 696 798.5 700.8 800.6 C704 802 707.5 802.2 710.9 801.7 C716 800.8 722 797 731.2 789 C734 786 736 782.5 737.6 778.9 C739.5 772 740.5 764 740 756 C739.5 746 734 736 726 730 C716 726 700 728 690 736 C685 741 682 746 681.1 752Z" fill="#e6b98f" stroke="#24170f" stroke-width="1.1"/>
<path d="M733 764 C734 774 730 786 720 796 C727 793 735 785 738 777 C740 770 740.5 762 740 755Z" fill="#c8956a" opacity="0.6"/>
<path d="M726 768 C727 772 726 776 724 779" stroke="#9a6c48" stroke-width="0.8" fill="none"/>
<!-- hair -->
<path d="M663.3 726.8 C667 721.5 671 716.5 675.4 711.6 C679.5 707.5 684 704.5 688.1 702.7 C692 701 696 700.3 700 700.2 L705.5 696.5 L708.4 699.5 C713 700.5 717 702 721.1 704 C724 703.5 727 703.3 730 703.5 L737.5 699.5 L740 706 C743 706.8 746 707.8 749 709 L756.5 711.5 L751.5 716 C755 721.5 756.5 728 756.6 734.4 C756.6 738 756 742 755 745.5 C754 748.5 753 751 751.6 753.5 C749.5 752 746.5 752.5 744 754 C743 752 741.5 750 740 749 C738 745.5 734 745 728.7 745.9 C727.5 740 725 734 721.1 729.4 C716 733 710 735 703.3 735.7 C700 739 697 742 694 745 C691.5 741.5 690.5 739 690.5 737 C687.5 742.5 684 748.5 681.1 753.5 C680 753.6 679.6 753.6 679.2 753.5 C676 752 673.5 750 672 748 C669.5 746.5 667.5 744 666.5 741.4 C668.5 739.5 669.2 737.2 669 735 C668 732 666 729 663.3 726.8Z" fill="#2e241c" stroke="#140e0a" stroke-width="1"/>
<path d="M686 712 C694 707 704 706 712 709 M718 709 C728 711 738 718 744 728 M674 724 C680 718 688 716 696 718 M700 722 C706 718 714 718 720 722 M730 722 C736 728 740 736 741 744" stroke="#54463a" stroke-width="1.1" fill="none"/>
<!-- brows & eyes -->
<path d="M684.3 751 C689 748.6 695 749.5 699.5 752.2 M707.1 749.2 C713 746.6 720 747.2 726.2 751" stroke="#1e1610" stroke-width="2.3" fill="none"/>
<path d="M686.5 756 C690 754 694 754.4 696.5 756.4 M711.5 756.2 C715 753.8 720 753.8 723.6 756" stroke="#1e1610" stroke-width="1.3" fill="none"/>
<circle cx="691.5" cy="756.4" r="1.3" fill="#3a2a1c"/><circle cx="717.5" cy="756.2" r="1.4" fill="#3a2a1c"/>
<!-- nose -->
<path d="M700 756 C699.5 763 697.5 769 697 773.8 C699 776 703 776.5 706 775.5 L709.7 774.4" stroke="#8e6242" stroke-width="1" fill="none"/>
<!-- mustache -->
<path d="M690.4 785 C692.5 780.5 696.5 777.5 700.8 777 C702.5 777.6 704 777.8 705.5 777.4 C711 776.5 716.5 780 719.5 786.2 C714.5 784 709.5 783.4 705 783.8 C700 783.2 695 783.6 690.4 785Z" fill="#2a1e16" stroke="#140e0a" stroke-width="0.9"/>
<path d="M698 788.5 C702 789.6 707 789.6 711 788.4" stroke="#9a5e48" stroke-width="1.1" fill="none"/>
<path d="M699.5 794.5 C703 796 707.5 796 711 794.5" stroke="#b98a62" stroke-width="0.9" fill="none"/>
</g>
</g>

<g id="coins">
<defs>
<linearGradient id="coinside" x1="0" y1="0" x2="1" y2="0">
<stop offset="0" stop-color="#b98a12"/><stop offset="0.28" stop-color="#e2b92a"/><stop offset="0.5" stop-color="#f3dc62"/><stop offset="0.68" stop-color="#dcae22"/><stop offset="1" stop-color="#a87c0e"/>
</linearGradient>
<linearGradient id="cointop" x1="0" y1="0" x2="1" y2="1">
<stop offset="0" stop-color="#f0d24c"/><stop offset="1" stop-color="#d8aa22"/>
</linearGradient>
<filter id="csoft" x="-5%" y="-5%" width="110%" height="110%"><feGaussianBlur stdDeviation="0.35"/></filter>
<filter id="cshadow" x="-10%" y="-30%" width="120%" height="160%"><feGaussianBlur stdDeviation="1.6"/></filter>
</defs>
<ellipse cx="926" cy="903" rx="92" ry="9.5" fill="#d9d6c6" filter="url(#cshadow)"/>
<ellipse cx="930" cy="906" rx="70" ry="6" fill="#c9c6b4" opacity="0.7" filter="url(#cshadow)"/>
<g filter="url(#csoft)">
<path d="M886.7 877.2 L886.7 883.2 A19.9 4.8 0 0 0 926.6 883.2 L926.6 877.2 A19.9 4.8 0 0 1 886.7 877.2Z" fill="url(#coinside)" stroke="#7a5a0a" stroke-width="0.7"/><path d="M886.7 871.1 L886.7 877.2 A19.9 4.8 0 0 0 926.6 877.2 L926.6 871.1 A19.9 4.8 0 0 1 886.7 871.1Z" fill="url(#coinside)" stroke="#7a5a0a" stroke-width="0.7"/><path d="M886.7 865.0 L886.7 871.1 A19.9 4.8 0 0 0 926.6 871.1 L926.6 865.0 A19.9 4.8 0 0 1 886.7 865.0Z" fill="url(#coinside)" stroke="#7a5a0a" stroke-width="0.7"/><path d="M886.7 859.0 L886.7 865.0 A19.9 4.8 0 0 0 926.6 865.0 L926.6 859.0 A19.9 4.8 0 0 1 886.7 859.0Z" fill="url(#coinside)" stroke="#7a5a0a" stroke-width="0.7"/><path d="M886.7 852.9 L886.7 859.0 A19.9 4.8 0 0 0 926.6 859.0 L926.6 852.9 A19.9 4.8 0 0 1 886.7 852.9Z" fill="url(#coinside)" stroke="#7a5a0a" stroke-width="0.7"/><path d="M886.7 846.9 L886.7 852.9 A19.9 4.8 0 0 0 926.6 852.9 L926.6 846.9 A19.9 4.8 0 0 1 886.7 846.9Z" fill="url(#coinside)" stroke="#7a5a0a" stroke-width="0.7"/><path d="M886.7 840.8 L886.7 846.9 A19.9 4.8 0 0 0 926.6 846.9 L926.6 840.8 A19.9 4.8 0 0 1 886.7 840.8Z" fill="url(#coinside)" stroke="#7a5a0a" stroke-width="0.7"/><path d="M886.7 834.7 L886.7 840.8 A19.9 4.8 0 0 0 926.6 840.8 L926.6 834.7 A19.9 4.8 0 0 1 886.7 834.7Z" fill="url(#coinside)" stroke="#7a5a0a" stroke-width="0.7"/><path d="M886.7 828.7 L886.7 834.7 A19.9 4.8 0 0 0 926.6 834.7 L926.6 828.7 A19.9 4.8 0 0 1 886.7 828.7Z" fill="url(#coinside)" stroke="#7a5a0a" stroke-width="0.7"/><ellipse cx="906.7" cy="828.7" rx="19.9" ry="4.8" fill="url(#cointop)" stroke="#8a680e" stroke-width="0.7"/><ellipse cx="906.7" cy="828.7" rx="16.0" ry="3.4" fill="none" stroke="#f6e488" stroke-width="0.7" opacity="0.8"/>
<path d="M926.6 891.0 L926.6 897.0 A16.5 4.0 0 0 0 959.6 897.0 L959.6 891.0 A16.5 4.0 0 0 1 926.6 891.0Z" fill="url(#coinside)" stroke="#7a5a0a" stroke-width="0.7"/><path d="M926.6 885.0 L926.6 891.0 A16.5 4.0 0 0 0 959.6 891.0 L959.6 885.0 A16.5 4.0 0 0 1 926.6 885.0Z" fill="url(#coinside)" stroke="#7a5a0a" stroke-width="0.7"/><path d="M926.6 878.9 L926.6 885.0 A16.5 4.0 0 0 0 959.6 885.0 L959.6 878.9 A16.5 4.0 0 0 1 926.6 878.9Z" fill="url(#coinside)" stroke="#7a5a0a" stroke-width="0.7"/><path d="M926.6 872.9 L926.6 878.9 A16.5 4.0 0 0 0 959.6 878.9 L959.6 872.9 A16.5 4.0 0 0 1 926.6 872.9Z" fill="url(#coinside)" stroke="#7a5a0a" stroke-width="0.7"/><path d="M926.6 866.8 L926.6 872.9 A16.5 4.0 0 0 0 959.6 872.9 L959.6 866.8 A16.5 4.0 0 0 1 926.6 866.8Z" fill="url(#coinside)" stroke="#7a5a0a" stroke-width="0.7"/><path d="M926.6 860.8 L926.6 866.8 A16.5 4.0 0 0 0 959.6 866.8 L959.6 860.8 A16.5 4.0 0 0 1 926.6 860.8Z" fill="url(#coinside)" stroke="#7a5a0a" stroke-width="0.7"/><path d="M926.6 854.8 L926.6 860.8 A16.5 4.0 0 0 0 959.6 860.8 L959.6 854.8 A16.5 4.0 0 0 1 926.6 854.8Z" fill="url(#coinside)" stroke="#7a5a0a" stroke-width="0.7"/><ellipse cx="943.1" cy="854.8" rx="16.5" ry="4.0" fill="url(#cointop)" stroke="#8a680e" stroke-width="0.7"/><ellipse cx="943.1" cy="854.8" rx="13.2" ry="2.9" fill="none" stroke="#f6e488" stroke-width="0.7" opacity="0.8"/>
<path d="M846.9 891.6 L846.9 898.8 A20.9 5.0 0 0 0 888.7 898.8 L888.7 891.6 A20.9 5.0 0 0 1 846.9 891.6Z" fill="url(#coinside)" stroke="#7a5a0a" stroke-width="0.7"/><path d="M846.9 884.4 L846.9 891.6 A20.9 5.0 0 0 0 888.7 891.6 L888.7 884.4 A20.9 5.0 0 0 1 846.9 884.4Z" fill="url(#coinside)" stroke="#7a5a0a" stroke-width="0.7"/><path d="M846.9 877.2 L846.9 884.4 A20.9 5.0 0 0 0 888.7 884.4 L888.7 877.2 A20.9 5.0 0 0 1 846.9 877.2Z" fill="url(#coinside)" stroke="#7a5a0a" stroke-width="0.7"/><path d="M846.9 870.0 L846.9 877.2 A20.9 5.0 0 0 0 888.7 877.2 L888.7 870.0 A20.9 5.0 0 0 1 846.9 870.0Z" fill="url(#coinside)" stroke="#7a5a0a" stroke-width="0.7"/><path d="M846.9 862.8 L846.9 870.0 A20.9 5.0 0 0 0 888.7 870.0 L888.7 862.8 A20.9 5.0 0 0 1 846.9 862.8Z" fill="url(#coinside)" stroke="#7a5a0a" stroke-width="0.7"/><ellipse cx="867.8" cy="862.8" rx="20.9" ry="5.0" fill="url(#cointop)" stroke="#8a680e" stroke-width="0.7"/><ellipse cx="867.8" cy="862.8" rx="16.7" ry="3.6" fill="none" stroke="#f6e488" stroke-width="0.7" opacity="0.8"/>
<path d="M957.5 893.3 L957.5 899.5 A17.9 4.3 0 0 0 993.3 899.5 L993.3 893.3 A17.9 4.3 0 0 1 957.5 893.3Z" fill="url(#coinside)" stroke="#7a5a0a" stroke-width="0.7"/><path d="M957.5 887.2 L957.5 893.3 A17.9 4.3 0 0 0 993.3 893.3 L993.3 887.2 A17.9 4.3 0 0 1 957.5 887.2Z" fill="url(#coinside)" stroke="#7a5a0a" stroke-width="0.7"/><path d="M957.5 881.0 L957.5 887.2 A17.9 4.3 0 0 0 993.3 887.2 L993.3 881.0 A17.9 4.3 0 0 1 957.5 881.0Z" fill="url(#coinside)" stroke="#7a5a0a" stroke-width="0.7"/><ellipse cx="975.4" cy="881.0" rx="17.9" ry="4.3" fill="url(#cointop)" stroke="#8a680e" stroke-width="0.7"/><ellipse cx="975.4" cy="881.0" rx="14.3" ry="3.1" fill="none" stroke="#f6e488" stroke-width="0.7" opacity="0.8"/>
<path d="M895.7 901.3 L895.7 907.7 A19.9 4.8 0 0 0 935.5 907.7 L935.5 901.3 A19.9 4.8 0 0 1 895.7 901.3Z" fill="url(#coinside)" stroke="#7a5a0a" stroke-width="0.7"/><path d="M895.7 894.9 L895.7 901.3 A19.9 4.8 0 0 0 935.5 901.3 L935.5 894.9 A19.9 4.8 0 0 1 895.7 894.9Z" fill="url(#coinside)" stroke="#7a5a0a" stroke-width="0.7"/><path d="M895.7 888.5 L895.7 894.9 A19.9 4.8 0 0 0 935.5 894.9 L935.5 888.5 A19.9 4.8 0 0 1 895.7 888.5Z" fill="url(#coinside)" stroke="#7a5a0a" stroke-width="0.7"/><ellipse cx="915.6" cy="888.5" rx="19.9" ry="4.8" fill="url(#cointop)" stroke="#8a680e" stroke-width="0.7"/><ellipse cx="915.6" cy="888.5" rx="15.9" ry="3.4" fill="none" stroke="#f6e488" stroke-width="0.7" opacity="0.8"/>
</g></g>
</svg>
</body></html>
